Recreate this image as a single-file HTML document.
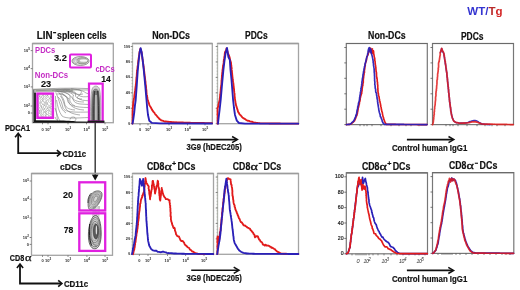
<!DOCTYPE html><html><head><meta charset="utf-8"><style>html,body{margin:0;padding:0;background:#fff;width:520px;height:290px;overflow:hidden}svg{display:block;font-family:"Liberation Sans",sans-serif;will-change:transform}</style></head><body>
<svg width="520" height="290" viewBox="0 0 520 290">
<rect width="520" height="290" fill="#fff"/>
<text x="467.3" y="15.3" font-size="11.5" font-weight="bold" textLength="35.2" lengthAdjust="spacingAndGlyphs"><tspan fill="#3434d0">WT/</tspan><tspan fill="#b82a2a">T</tspan><tspan fill="#d42626">g</tspan></text>
<text x="36.7" y="39.1" font-size="10" font-weight="bold" fill="#111" text-anchor="start" textLength="15.8" lengthAdjust="spacingAndGlyphs" stroke="#111" stroke-width="0.2" >LIN</text>
<rect x="53.1" y="32" width="3" height="1.3" fill="#111"/>
<text x="57.1" y="39.2" font-size="10.3" font-weight="bold" fill="#111" text-anchor="start" textLength="49.6" lengthAdjust="spacingAndGlyphs" stroke="#111" stroke-width="0.2" >spleen cells</text>
<rect x="32.5" y="43.5" width="80.8" height="79.2" fill="none" stroke="#a4a4a4" stroke-width="1.3"/>
<line x1="32.5" y1="43.5" x2="113.3" y2="43.5" stroke="#9c9c9c" stroke-width="1.3"/>
<line x1="30.7" y1="50.6" x2="32.5" y2="50.6" stroke="#666" stroke-width="0.8"/>
<text x="29.9" y="52.04" font-size="4.0" font-weight="bold" fill="#2a2a2a" text-anchor="end">10<tspan font-size="3.00" dy="-1.80">5</tspan></text>
<line x1="30.7" y1="68.6" x2="32.5" y2="68.6" stroke="#666" stroke-width="0.8"/>
<text x="29.9" y="70.03999999999999" font-size="4.0" font-weight="bold" fill="#2a2a2a" text-anchor="end">10<tspan font-size="3.00" dy="-1.80">4</tspan></text>
<line x1="30.7" y1="86.9" x2="32.5" y2="86.9" stroke="#666" stroke-width="0.8"/>
<text x="29.9" y="88.34" font-size="4.0" font-weight="bold" fill="#2a2a2a" text-anchor="end">10<tspan font-size="3.00" dy="-1.80">3</tspan></text>
<line x1="30.7" y1="106" x2="32.5" y2="106" stroke="#666" stroke-width="0.8"/>
<text x="29.9" y="107.44" font-size="4.0" font-weight="bold" fill="#2a2a2a" text-anchor="end">10<tspan font-size="3.00" dy="-1.80">2</tspan></text>
<line x1="30.7" y1="113" x2="32.5" y2="113" stroke="#666" stroke-width="0.8"/>
<text x="29.9" y="114.44" font-size="4.0" font-weight="bold" fill="#2a2a2a" text-anchor="end" textLength="2.22" lengthAdjust="spacingAndGlyphs">0</text>
<line x1="42.5" y1="122.7" x2="42.5" y2="124.3" stroke="#666" stroke-width="0.8"/>
<text x="42.5" y="130.6" font-size="4.0" font-weight="bold" fill="#2a2a2a" text-anchor="middle" textLength="2.22" lengthAdjust="spacingAndGlyphs">0</text>
<line x1="48" y1="122.7" x2="48" y2="124.3" stroke="#666" stroke-width="0.8"/>
<text x="48" y="130.6" font-size="4.0" font-weight="bold" fill="#2a2a2a" text-anchor="middle">10<tspan font-size="3.00" dy="-1.80">2</tspan></text>
<line x1="68" y1="122.7" x2="68" y2="124.3" stroke="#666" stroke-width="0.8"/>
<text x="68" y="130.6" font-size="4.0" font-weight="bold" fill="#2a2a2a" text-anchor="middle">10<tspan font-size="3.00" dy="-1.80">3</tspan></text>
<line x1="86.5" y1="122.7" x2="86.5" y2="124.3" stroke="#666" stroke-width="0.8"/>
<text x="86.5" y="130.6" font-size="4.0" font-weight="bold" fill="#2a2a2a" text-anchor="middle">10<tspan font-size="3.00" dy="-1.80">4</tspan></text>
<line x1="105" y1="122.7" x2="105" y2="124.3" stroke="#666" stroke-width="0.8"/>
<text x="105" y="130.6" font-size="4.0" font-weight="bold" fill="#2a2a2a" text-anchor="middle">10<tspan font-size="3.00" dy="-1.80">5</tspan></text>
<rect x="33" y="88.8" width="40" height="3.2" fill="#a9ada5" opacity="0.85"/>
<rect x="73" y="88.8" width="15" height="2" fill="#b8bcb4" opacity="0.7"/>
<path d="M33,89.5 C50,88.4 70,87.6 89,88.6" fill="none" stroke="#7a7a7a" stroke-width="0.6"/>
<path d="M36,90.8 C50,90 62,89.2 70,89.6" fill="none" stroke="#7a7a7a" stroke-width="0.6"/>
<path d="M52,90.5 C60,88.5 70,88.5 79,89.8 C84,91 80,95 77,97.5 C80,100.5 85,100.5 89,100.8" fill="none" stroke="#7a7a7a" stroke-width="0.6"/>
<path d="M55,92 C63,90.5 70,91.5 73.5,95 C72,99 73,103 80,104 L89,104.5" fill="none" stroke="#7a7a7a" stroke-width="0.6"/>
<path d="M57,94 C62,93.5 67,96 67.5,100 C68,105 74,107.5 89,107.5" fill="none" stroke="#7a7a7a" stroke-width="0.6"/>
<path d="M58,97 C61,99 62,104 63,108 C65,112 72,112.5 89,112" fill="none" stroke="#7a7a7a" stroke-width="0.6"/>
<path d="M56.5,100 C57.5,106 59,112 62,116 C66,119 76,118 89,117.5" fill="none" stroke="#7a7a7a" stroke-width="0.6"/>
<path d="M55.5,96 C55.5,104 56,112 57.5,120" fill="none" stroke="#7a7a7a" stroke-width="0.6"/>
<path d="M60,91.5 C66,92 71,94 70,98 C69,101 71,104 75,106" fill="none" stroke="#7a7a7a" stroke-width="0.6"/>
<path d="M63,90 C70,89.5 76,91 75.5,94 C75,97 77,99 82,99" fill="none" stroke="#7a7a7a" stroke-width="0.6"/>
<path d="M55,108 C57,114 58,118 60,121" fill="none" stroke="#7a7a7a" stroke-width="0.6"/>
<path d="M70,119.5 C70,117 73,116.5 75,117.5 C76.5,118.5 76,120.5 74.5,121" fill="none" stroke="#7a7a7a" stroke-width="0.6"/>
<path d="M56,93 C58,97 59,101 60,104 C61,108 63,111 66,113" fill="none" stroke="#7a7a7a" stroke-width="0.6"/>
<path d="M58.5,92.5 C62,96 64,99 64.5,103 C65,107 68,109.5 75,110" fill="none" stroke="#7a7a7a" stroke-width="0.6"/>
<path d="M61.5,93 C65,95.5 67.5,97 69,99" fill="none" stroke="#7a7a7a" stroke-width="0.6"/>
<path d="M66,90.5 C72,91.5 77,93.5 79,95.5 C81,97 85,97 89,96.5" fill="none" stroke="#7a7a7a" stroke-width="0.6"/>
<path d="M71,88.8 C77,89 83,90.5 86,93 L89,94" fill="none" stroke="#7a7a7a" stroke-width="0.6"/>
<path d="M55,117 C56,119.5 57,120.5 58,121" fill="none" stroke="#7a7a7a" stroke-width="0.6"/>
<path d="M55.5,90.5 C62,90 68,90.5 72,92.5 C76,94.5 79,95 83,94" fill="none" stroke="#7a7a7a" stroke-width="0.6"/>
<path d="M57,91.5 C63,91.5 69,93.5 71.5,97 C73,100 77,102 84,102" fill="none" stroke="#7a7a7a" stroke-width="0.6"/>
<path d="M59,93 C64,94 68,97.5 69,102 C70,106 75,109.5 84,110" fill="none" stroke="#7a7a7a" stroke-width="0.6"/>
<path d="M60.5,96 C63,99 64,104 65.5,108 C67,111 71,114 80,115" fill="none" stroke="#7a7a7a" stroke-width="0.6"/>
<polyline points="38.70,94.50 38.92,95.50 39.65,96.50 38.73,97.50 38.82,98.50 38.97,99.50 38.17,100.50 38.82,101.50 39.06,102.50 39.39,103.50 37.99,104.50 38.41,105.50 37.98,106.50 39.42,107.50 39.19,108.50 37.88,109.50 39.76,110.50 39.73,111.50 39.11,112.50 39.03,113.50 38.11,114.50 37.83,115.50 38.86,116.50 37.92,117.50" fill="none" stroke="#858585" stroke-width="0.5"/>
<polyline points="39.78,94.50 39.88,95.50 39.46,96.50 40.33,97.50 40.28,98.50 41.08,99.50 40.44,100.50 40.68,101.50 40.40,102.50 40.72,103.50 40.31,104.50 39.96,105.50 41.40,106.50 41.39,107.50 41.08,108.50 40.82,109.50 40.03,110.50 39.86,111.50 39.98,112.50 39.54,113.50 40.93,114.50 40.20,115.50 41.09,116.50 40.17,117.50" fill="none" stroke="#858585" stroke-width="0.5"/>
<polyline points="42.92,94.50 42.69,95.50 41.00,96.50 41.42,97.50 42.82,98.50 41.94,99.50 42.96,100.50 41.79,101.50 41.15,102.50 42.26,103.50 42.56,104.50 41.54,105.50 41.17,106.50 41.67,107.50 42.93,108.50 42.52,109.50 41.24,110.50 41.49,111.50 41.20,112.50 41.12,113.50 42.59,114.50 41.36,115.50 42.12,116.50 41.89,117.50" fill="none" stroke="#858585" stroke-width="0.5"/>
<polyline points="42.98,94.50 44.06,95.50 42.86,96.50 43.89,97.50 42.83,98.50 43.44,99.50 43.03,100.50 43.14,101.50 44.54,102.50 44.21,103.50 43.21,104.50 44.37,105.50 43.02,106.50 43.39,107.50 44.31,108.50 43.88,109.50 42.80,110.50 44.58,111.50 43.03,112.50 43.12,113.50 44.15,114.50 43.26,115.50 43.19,116.50 42.75,117.50" fill="none" stroke="#858585" stroke-width="0.5"/>
<polyline points="44.38,94.50 45.37,95.50 44.69,96.50 45.40,97.50 44.94,98.50 45.11,99.50 46.12,100.50 45.17,101.50 45.35,102.50 45.93,103.50 44.57,104.50 44.51,105.50 46.02,106.50 45.84,107.50 44.70,108.50 44.58,109.50 45.68,110.50 46.08,111.50 44.59,112.50 46.10,113.50 45.96,114.50 45.41,115.50 45.04,116.50 44.41,117.50" fill="none" stroke="#858585" stroke-width="0.5"/>
<polyline points="45.88,94.50 47.73,95.50 46.28,96.50 47.21,97.50 46.31,98.50 47.45,99.50 46.99,100.50 46.39,101.50 46.15,102.50 47.24,103.50 45.94,104.50 46.26,105.50 46.92,106.50 47.50,107.50 47.03,108.50 46.36,109.50 47.63,110.50 46.21,111.50 45.83,112.50 46.34,113.50 46.69,114.50 45.92,115.50 46.15,116.50 46.54,117.50" fill="none" stroke="#858585" stroke-width="0.5"/>
<polyline points="48.54,94.50 47.66,95.50 48.12,96.50 49.18,97.50 49.36,98.50 48.71,99.50 48.78,100.50 48.57,101.50 47.68,102.50 47.47,103.50 47.44,104.50 49.22,105.50 48.80,106.50 49.33,107.50 47.44,108.50 48.67,109.50 48.36,110.50 48.86,111.50 48.04,112.50 49.40,113.50 47.55,114.50 48.49,115.50 48.87,116.50 49.20,117.50" fill="none" stroke="#858585" stroke-width="0.5"/>
<polyline points="50.47,94.50 50.41,95.50 50.59,96.50 50.83,97.50 49.70,98.50 50.37,99.50 50.80,100.50 50.74,101.50 49.83,102.50 50.58,103.50 50.73,104.50 50.15,105.50 50.25,106.50 49.76,107.50 50.17,108.50 50.22,109.50 49.16,110.50 50.28,111.50 50.99,112.50 50.76,113.50 50.46,114.50 49.78,115.50 50.47,116.50 50.16,117.50" fill="none" stroke="#858585" stroke-width="0.5"/>
<polyline points="51.48,94.50 52.28,95.50 50.77,96.50 52.10,97.50 50.66,98.50 51.80,99.50 51.56,100.50 51.06,101.50 52.00,102.50 51.59,103.50 51.83,104.50 52.44,105.50 51.11,106.50 50.62,107.50 51.20,108.50 51.96,109.50 51.01,110.50 50.94,111.50 52.41,112.50 51.92,113.50 51.48,114.50 52.38,115.50 51.25,116.50 51.93,117.50" fill="none" stroke="#858585" stroke-width="0.5"/>
<path d="M33,120.3 L60,120.4 C70,120.6 74,121 78,121.5 L104,121.8 L104,122.8 L33,122.8Z" fill="#111"/>
<rect x="33" y="90" width="1.2" height="32" fill="#777"/>
<rect x="34.1" y="92.5" width="1.8" height="29.5" fill="#151515"/>
<path transform="translate(-0.5,0)" d="M91.2,121.5 C90.8,108 91.2,94 92.6,89 C94,85 98.6,85 100,89 C101.3,94 101.6,108 101.3,121.5Z" fill="#d2d2d2" stroke="#8a8a8a" stroke-width="0.6"/>
<path transform="translate(-0.5,0)" d="M92.2,121.5 C92,108 92.4,97 93.4,91.5 C94.5,88.3 97.9,88.3 99,91.5 C100,97 100.4,108 100.2,121.5Z" fill="#8e8e8e" stroke="#666" stroke-width="0.6"/>
<path d="M92.6,121.5 C92.39999999999999,110 92.6,100 94.0,91" fill="none" stroke="#444" stroke-width="0.6"/>
<path d="M93.8,121.5 C93.6,110 93.8,100 94.72,91" fill="none" stroke="#222" stroke-width="0.9"/>
<path d="M94.6,121.5 C94.39999999999999,110 94.6,100 95.19999999999999,91" fill="none" stroke="#555" stroke-width="0.6"/>
<path d="M97.0,121.5 C96.8,110 97.0,100 96.64,91" fill="none" stroke="#555" stroke-width="0.6"/>
<path d="M98.6,121.5 C98.39999999999999,110 98.6,100 97.6,91" fill="none" stroke="#222" stroke-width="0.9"/>
<path d="M99.4,121.5 C99.2,110 99.4,100 98.08,91" fill="none" stroke="#444" stroke-width="0.6"/>
<line x1="96.0" y1="95" x2="96.0" y2="120" stroke="#e6e6e6" stroke-width="1"/>
<ellipse cx="80.5" cy="61" rx="8.6" ry="4.5" transform="rotate(0 80.5 61)" fill="#dcdedb" stroke="#777" stroke-width="0.7" opacity="1"/>
<ellipse cx="82.2" cy="60.8" rx="5.6" ry="3.1" transform="rotate(0 82.2 60.8)" fill="#b4b8b0" stroke="#8a8f86" stroke-width="0.9" opacity="1"/>
<ellipse cx="83.6" cy="60.6" rx="3.8" ry="1.2" transform="rotate(0 83.6 60.6)" fill="#f8f8f8" stroke="#fff" stroke-width="0.2" opacity="1"/>
<ellipse cx="75.4" cy="61.2" rx="2.6" ry="2.4" transform="rotate(0 75.4 61.2)" fill="#e4e4e4" stroke="#8a8a8a" stroke-width="0.6" opacity="1"/>
<ellipse cx="75.6" cy="61.2" rx="1.2" ry="1.1" transform="rotate(0 75.6 61.2)" fill="#eee" stroke="#999" stroke-width="0.4" opacity="1"/>
<rect x="70" y="54.5" width="21" height="13" rx="1" fill="none" stroke="#e020e0" stroke-width="2"/>
<rect x="37.4" y="93.6" width="15.5" height="24.2" fill="none" stroke="#e020e0" stroke-width="2.4"/>
<rect x="89" y="83.6" width="13.7" height="38" fill="none" stroke="#e020e0" stroke-width="2.2"/>
<rect x="87.5" y="120.6" width="17" height="2.1" fill="#1a1a1a"/>
<text x="35.1" y="52.5" font-size="9.3" font-weight="bold" fill="#c42cc4" text-anchor="start" textLength="20.2" lengthAdjust="spacingAndGlyphs" >PDCs</text>
<text x="53.9" y="61.2" font-size="9.6" font-weight="bold" fill="#111" text-anchor="start" textLength="12.9" lengthAdjust="spacingAndGlyphs" stroke="#111" stroke-width="0.15" >3.2</text>
<text x="34.8" y="77.5" font-size="9.3" font-weight="bold" fill="#c42cc4" text-anchor="start" textLength="33.4" lengthAdjust="spacingAndGlyphs" >Non-DCs</text>
<text x="41" y="86.6" font-size="9.6" font-weight="bold" fill="#111" text-anchor="start" textLength="10.2" lengthAdjust="spacingAndGlyphs" stroke="#111" stroke-width="0.15" >23</text>
<text x="95.4" y="71.6" font-size="9.3" font-weight="bold" fill="#c42cc4" text-anchor="start" textLength="19.4" lengthAdjust="spacingAndGlyphs" >cDCs</text>
<text x="101.2" y="81.8" font-size="9.6" font-weight="bold" fill="#111" text-anchor="start" textLength="9.6" lengthAdjust="spacingAndGlyphs" stroke="#111" stroke-width="0.15" >14</text>
<text x="4.9" y="130.5" font-size="9.3" font-weight="bold" fill="#111" text-anchor="start" textLength="25.2" lengthAdjust="spacingAndGlyphs" stroke="#111" stroke-width="0.2" >PDCA1</text>
<polyline points="18.2,134 18.2,153.2 59.5,153.2" fill="none" stroke="#111" stroke-width="1.8"/>
<polyline points="15.1,137.2 18.2,133.2 21.3,137.2" fill="none" stroke="#111" stroke-width="1.6"/>
<polyline points="56.9,150.1 60.6,153.2 56.9,156.3" fill="none" stroke="#111" stroke-width="1.6"/>
<text x="62.4" y="156.8" font-size="9.6" font-weight="bold" fill="#111" text-anchor="start" textLength="23.8" lengthAdjust="spacingAndGlyphs" stroke="#111" stroke-width="0.2" >CD11c</text>
<line x1="95.2" y1="122" x2="95.2" y2="176" stroke="#333" stroke-width="1.4"/>
<polygon points="91.8,174.6 98.6,174.6 95.2,180.5" fill="#111"/>
<text x="60" y="169.8" font-size="8.6" font-weight="bold" fill="#111" text-anchor="start" textLength="22" lengthAdjust="spacingAndGlyphs" stroke="#111" stroke-width="0.2" >cDCs</text>
<rect x="31.5" y="173.5" width="81.0" height="81.80000000000001" fill="none" stroke="#a4a4a4" stroke-width="1.3"/>
<line x1="31.5" y1="173.5" x2="112.5" y2="173.5" stroke="#9c9c9c" stroke-width="1.3"/>
<line x1="29.7" y1="181" x2="31.5" y2="181" stroke="#666" stroke-width="0.8"/>
<text x="28.9" y="182.44" font-size="4.0" font-weight="bold" fill="#2a2a2a" text-anchor="end">10<tspan font-size="3.00" dy="-1.80">5</tspan></text>
<line x1="29.7" y1="199.2" x2="31.5" y2="199.2" stroke="#666" stroke-width="0.8"/>
<text x="28.9" y="200.64" font-size="4.0" font-weight="bold" fill="#2a2a2a" text-anchor="end">10<tspan font-size="3.00" dy="-1.80">4</tspan></text>
<line x1="29.7" y1="218" x2="31.5" y2="218" stroke="#666" stroke-width="0.8"/>
<text x="28.9" y="219.44" font-size="4.0" font-weight="bold" fill="#2a2a2a" text-anchor="end">10<tspan font-size="3.00" dy="-1.80">3</tspan></text>
<line x1="29.7" y1="237.5" x2="31.5" y2="237.5" stroke="#666" stroke-width="0.8"/>
<text x="28.9" y="238.94" font-size="4.0" font-weight="bold" fill="#2a2a2a" text-anchor="end">10<tspan font-size="3.00" dy="-1.80">2</tspan></text>
<line x1="29.7" y1="244.4" x2="31.5" y2="244.4" stroke="#666" stroke-width="0.8"/>
<text x="28.9" y="245.84" font-size="4.0" font-weight="bold" fill="#2a2a2a" text-anchor="end" textLength="2.22" lengthAdjust="spacingAndGlyphs">0</text>
<line x1="42.5" y1="255.3" x2="42.5" y2="256.90000000000003" stroke="#666" stroke-width="0.8"/>
<text x="42.5" y="261.6" font-size="4.0" font-weight="bold" fill="#2a2a2a" text-anchor="middle" textLength="2.22" lengthAdjust="spacingAndGlyphs">0</text>
<line x1="48" y1="255.3" x2="48" y2="256.90000000000003" stroke="#666" stroke-width="0.8"/>
<text x="48" y="261.6" font-size="4.0" font-weight="bold" fill="#2a2a2a" text-anchor="middle">10<tspan font-size="3.00" dy="-1.80">2</tspan></text>
<line x1="68" y1="255.3" x2="68" y2="256.90000000000003" stroke="#666" stroke-width="0.8"/>
<text x="68" y="261.6" font-size="4.0" font-weight="bold" fill="#2a2a2a" text-anchor="middle">10<tspan font-size="3.00" dy="-1.80">3</tspan></text>
<line x1="86.9" y1="255.3" x2="86.9" y2="256.90000000000003" stroke="#666" stroke-width="0.8"/>
<text x="86.9" y="261.6" font-size="4.0" font-weight="bold" fill="#2a2a2a" text-anchor="middle">10<tspan font-size="3.00" dy="-1.80">4</tspan></text>
<line x1="105" y1="255.3" x2="105" y2="256.90000000000003" stroke="#666" stroke-width="0.8"/>
<text x="105" y="261.6" font-size="4.0" font-weight="bold" fill="#2a2a2a" text-anchor="middle">10<tspan font-size="3.00" dy="-1.80">5</tspan></text>
<path d="M 89,209 C 87.2,205.5 88.2,198.5 91.3,194.2 C 93.8,190.8 99,189.8 101.3,192.2 C 103.2,194.5 101.2,200 98.6,203.8 C 96,207.5 91.3,211.2 89,209 Z" fill="#d6d6d6" stroke="#4a4a4a" stroke-width="0.75"/>
<path d="M 89.98,207.53 C 88.43,204.52 89.29,198.50 91.96,194.80 C 94.11,191.88 98.58,191.02 100.56,193.08 C 102.19,195.06 100.47,199.79 98.24,203.06 C 96.00,206.24 91.96,209.42 89.98,207.53 Z" fill="none" stroke="#555" stroke-width="0.5"/>
<path d="M 90.96,206.06 C 89.66,203.54 90.38,198.50 92.62,195.40 C 94.42,192.96 98.16,192.24 99.82,193.96 C 101.18,195.62 99.74,199.58 97.87,202.32 C 96.00,204.98 92.62,207.64 90.96,206.06 Z" fill="none" stroke="#888" stroke-width="0.5"/>
<path d="M 91.94,204.59 C 90.90,202.56 91.48,198.50 93.27,196.01 C 94.72,194.03 97.74,193.45 99.07,194.85 C 100.18,196.18 99.02,199.37 97.51,201.57 C 96.00,203.72 93.27,205.87 91.94,204.59 Z" fill="none" stroke="#555" stroke-width="0.5"/>
<path d="M 92.92,203.12 C 92.13,201.58 92.57,198.50 93.93,196.61 C 95.03,195.11 97.32,194.67 98.33,195.73 C 99.17,196.74 98.29,199.16 97.14,200.83 C 96.00,202.46 93.93,204.09 92.92,203.12 Z" fill="none" stroke="#888" stroke-width="0.5"/>
<path d="M 93.90,201.65 C 93.36,200.60 93.66,198.50 94.59,197.21 C 95.34,196.19 96.90,195.89 97.59,196.61 C 98.16,197.30 97.56,198.95 96.78,200.09 C 96.00,201.20 94.59,202.31 93.90,201.65 Z" fill="none" stroke="#555" stroke-width="0.5"/>
<path d="M 88,203 C 87.5,199 89,195 91.5,193" fill="none" stroke="#333" stroke-width="0.9"/>
<line x1="93.5" y1="206" x2="92.5" y2="219" stroke="#8a8a8a" stroke-width="0.5"/>
<line x1="94.6" y1="206" x2="93.6" y2="219" stroke="#8a8a8a" stroke-width="0.5"/>
<line x1="95.8" y1="206" x2="94.8" y2="219" stroke="#8a8a8a" stroke-width="0.5"/>
<line x1="97.2" y1="206" x2="96.2" y2="219" stroke="#8a8a8a" stroke-width="0.5"/>
<line x1="98.5" y1="206" x2="97.5" y2="219" stroke="#8a8a8a" stroke-width="0.5"/>
<line x1="99.6" y1="206" x2="98.6" y2="219" stroke="#8a8a8a" stroke-width="0.5"/>
<path d="M 95.5,215.5 C 99.5,216 101,224 101.2,233 C 101.3,242 99,248.8 94.8,248.8 C 90.5,248.8 88.4,243 88.4,235 C 88.4,226 91.5,215.5 95.5,215.5 Z" fill="#cfcfcf" stroke="#444" stroke-width="0.8"/>
<path d="M 95.44,217.48 C 98.96,217.92 100.28,224.96 100.46,232.88 C 100.54,240.80 98.52,246.78 94.82,246.78 C 91.04,246.78 89.19,241.68 89.19,234.64 C 89.19,226.72 91.92,217.48 95.44,217.48 Z" fill="none" stroke="#3a3a3a" stroke-width="0.55"/>
<path d="M 95.38,219.46 C 98.42,219.84 99.56,225.92 99.71,232.76 C 99.79,239.60 98.04,244.77 94.85,244.77 C 91.58,244.77 89.98,240.36 89.98,234.28 C 89.98,227.44 92.34,219.46 95.38,219.46 Z" fill="none" stroke="#777" stroke-width="0.55"/>
<path d="M 95.32,221.44 C 97.88,221.76 98.84,226.88 98.97,232.64 C 99.03,238.40 97.56,242.75 94.87,242.75 C 92.12,242.75 90.78,239.04 90.78,233.92 C 90.78,228.16 92.76,221.44 95.32,221.44 Z" fill="none" stroke="#3a3a3a" stroke-width="0.55"/>
<path d="M 95.26,223.42 C 97.34,223.68 98.12,227.84 98.22,232.52 C 98.28,237.20 97.08,240.74 94.90,240.74 C 92.66,240.74 91.57,237.72 91.57,233.56 C 91.57,228.88 93.18,223.42 95.26,223.42 Z" fill="none" stroke="#777" stroke-width="0.55"/>
<ellipse cx="95.8" cy="231.5" rx="2.6" ry="7.5" fill="#5a5a5a" stroke="#222" stroke-width="0.5"/>
<ellipse cx="96.4" cy="230" rx="0.7" ry="4.5" fill="#e0e0e0"/>
<path d="M 89.6,224 C 89,231 89.4,240 91.5,245.5" fill="none" stroke="#222" stroke-width="1"/>
<path d="M 92,240 C 93,244 95,246.5 97,246" fill="none" stroke="#555" stroke-width="0.6"/>
<rect x="79.3" y="182.3" width="25.9" height="28.2" fill="none" stroke="#e020e0" stroke-width="2.3"/>
<rect x="79.3" y="213.3" width="25.9" height="37.6" fill="none" stroke="#e020e0" stroke-width="2.3"/>
<text x="63.1" y="198.3" font-size="9.6" font-weight="bold" fill="#111" text-anchor="start" textLength="10" lengthAdjust="spacingAndGlyphs" stroke="#111" stroke-width="0.15" >20</text>
<text x="63.7" y="233.1" font-size="9.6" font-weight="bold" fill="#111" text-anchor="start" textLength="9.6" lengthAdjust="spacingAndGlyphs" stroke="#111" stroke-width="0.15" >78</text>
<text x="9.8" y="261.3" font-size="9.2" font-weight="bold" fill="#111" text-anchor="start" textLength="14.4" lengthAdjust="spacingAndGlyphs" stroke="#111" stroke-width="0.2" >CD8</text>
<text x="25" y="261.3" font-size="9.6" font-family="Liberation Serif" fill="#111" stroke="#111" stroke-width="0.25" textLength="6.5" lengthAdjust="spacingAndGlyphs">α</text>
<polyline points="20,264.5 20,283.5 61,283.5" fill="none" stroke="#111" stroke-width="1.8"/>
<polyline points="16.9,268 20,264 23.1,268" fill="none" stroke="#111" stroke-width="1.6"/>
<polyline points="58.2,280.4 61.9,283.5 58.2,286.6" fill="none" stroke="#111" stroke-width="1.6"/>
<text x="63.9" y="286.9" font-size="9.6" font-weight="bold" fill="#111" text-anchor="start" textLength="24.2" lengthAdjust="spacingAndGlyphs" stroke="#111" stroke-width="0.2" >CD11c</text>
<text x="152.2" y="38.7" font-size="10.2" font-weight="bold" fill="#111" text-anchor="start" textLength="37.8" lengthAdjust="spacingAndGlyphs" stroke="#111" stroke-width="0.2" >Non-DCs</text>
<text x="245.1" y="38.8" font-size="10.2" font-weight="bold" fill="#111" text-anchor="start" textLength="22.6" lengthAdjust="spacingAndGlyphs" stroke="#111" stroke-width="0.2" >PDCs</text>
<rect x="132.5" y="43.5" width="79.80000000000001" height="80.2" fill="none" stroke="#a4a4a4" stroke-width="1.3"/>
<line x1="132.5" y1="43.5" x2="212.3" y2="43.5" stroke="#9c9c9c" stroke-width="1.3"/>
<line x1="132.5" y1="44.2" x2="132.5" y2="123.7" stroke="#fff" stroke-width="1.4"/>
<line x1="132.5" y1="44.2" x2="132.5" y2="123.7" stroke="#b4b8b0" stroke-width="1"/>
<line x1="130.7" y1="46.5" x2="132.5" y2="46.5" stroke="#666" stroke-width="0.8"/>
<text x="130.2" y="47.58" font-size="3.0" font-weight="bold" fill="#2a2a2a" text-anchor="end" textLength="6.51" lengthAdjust="spacingAndGlyphs">100</text>
<line x1="130.7" y1="61.94" x2="132.5" y2="61.94" stroke="#666" stroke-width="0.8"/>
<text x="130.2" y="63.019999999999996" font-size="3.0" font-weight="bold" fill="#2a2a2a" text-anchor="end" textLength="4.34" lengthAdjust="spacingAndGlyphs">80</text>
<line x1="130.7" y1="77.38" x2="132.5" y2="77.38" stroke="#666" stroke-width="0.8"/>
<text x="130.2" y="78.46" font-size="3.0" font-weight="bold" fill="#2a2a2a" text-anchor="end" textLength="4.34" lengthAdjust="spacingAndGlyphs">60</text>
<line x1="130.7" y1="92.82000000000001" x2="132.5" y2="92.82000000000001" stroke="#666" stroke-width="0.8"/>
<text x="130.2" y="93.9" font-size="3.0" font-weight="bold" fill="#2a2a2a" text-anchor="end" textLength="4.34" lengthAdjust="spacingAndGlyphs">40</text>
<line x1="130.7" y1="108.26" x2="132.5" y2="108.26" stroke="#666" stroke-width="0.8"/>
<text x="130.2" y="109.34" font-size="3.0" font-weight="bold" fill="#2a2a2a" text-anchor="end" textLength="4.34" lengthAdjust="spacingAndGlyphs">20</text>
<line x1="130.7" y1="123.7" x2="132.5" y2="123.7" stroke="#666" stroke-width="0.8"/>
<text x="130.2" y="124.78" font-size="3.0" font-weight="bold" fill="#2a2a2a" text-anchor="end" textLength="2.17" lengthAdjust="spacingAndGlyphs">0</text>
<line x1="131.6" y1="46.5" x2="132.5" y2="46.5" stroke="#888" stroke-width="0.5"/>
<line x1="131.6" y1="49.6" x2="132.5" y2="49.6" stroke="#888" stroke-width="0.5"/>
<line x1="131.6" y1="52.7" x2="132.5" y2="52.7" stroke="#888" stroke-width="0.5"/>
<line x1="131.6" y1="55.8" x2="132.5" y2="55.8" stroke="#888" stroke-width="0.5"/>
<line x1="131.6" y1="58.9" x2="132.5" y2="58.9" stroke="#888" stroke-width="0.5"/>
<line x1="131.6" y1="61.9" x2="132.5" y2="61.9" stroke="#888" stroke-width="0.5"/>
<line x1="131.6" y1="65.0" x2="132.5" y2="65.0" stroke="#888" stroke-width="0.5"/>
<line x1="131.6" y1="68.1" x2="132.5" y2="68.1" stroke="#888" stroke-width="0.5"/>
<line x1="131.6" y1="71.2" x2="132.5" y2="71.2" stroke="#888" stroke-width="0.5"/>
<line x1="131.6" y1="74.3" x2="132.5" y2="74.3" stroke="#888" stroke-width="0.5"/>
<line x1="131.6" y1="77.4" x2="132.5" y2="77.4" stroke="#888" stroke-width="0.5"/>
<line x1="131.6" y1="80.5" x2="132.5" y2="80.5" stroke="#888" stroke-width="0.5"/>
<line x1="131.6" y1="83.6" x2="132.5" y2="83.6" stroke="#888" stroke-width="0.5"/>
<line x1="131.6" y1="86.6" x2="132.5" y2="86.6" stroke="#888" stroke-width="0.5"/>
<line x1="131.6" y1="89.7" x2="132.5" y2="89.7" stroke="#888" stroke-width="0.5"/>
<line x1="131.6" y1="92.8" x2="132.5" y2="92.8" stroke="#888" stroke-width="0.5"/>
<line x1="131.6" y1="95.9" x2="132.5" y2="95.9" stroke="#888" stroke-width="0.5"/>
<line x1="131.6" y1="99.0" x2="132.5" y2="99.0" stroke="#888" stroke-width="0.5"/>
<line x1="131.6" y1="102.1" x2="132.5" y2="102.1" stroke="#888" stroke-width="0.5"/>
<line x1="131.6" y1="105.2" x2="132.5" y2="105.2" stroke="#888" stroke-width="0.5"/>
<line x1="131.6" y1="108.3" x2="132.5" y2="108.3" stroke="#888" stroke-width="0.5"/>
<line x1="131.6" y1="111.3" x2="132.5" y2="111.3" stroke="#888" stroke-width="0.5"/>
<line x1="131.6" y1="114.4" x2="132.5" y2="114.4" stroke="#888" stroke-width="0.5"/>
<line x1="131.6" y1="117.5" x2="132.5" y2="117.5" stroke="#888" stroke-width="0.5"/>
<line x1="131.6" y1="120.6" x2="132.5" y2="120.6" stroke="#888" stroke-width="0.5"/>
<line x1="140" y1="123.7" x2="140" y2="125.3" stroke="#666" stroke-width="0.8"/>
<text x="140" y="130.6" font-size="4.0" font-weight="bold" fill="#2a2a2a" text-anchor="middle" textLength="2.22" lengthAdjust="spacingAndGlyphs">0</text>
<line x1="148" y1="123.7" x2="148" y2="125.3" stroke="#666" stroke-width="0.8"/>
<text x="148" y="130.6" font-size="4.0" font-weight="bold" fill="#2a2a2a" text-anchor="middle">10<tspan font-size="3.00" dy="-1.80">2</tspan></text>
<line x1="169" y1="123.7" x2="169" y2="125.3" stroke="#666" stroke-width="0.8"/>
<text x="169" y="130.6" font-size="4.0" font-weight="bold" fill="#2a2a2a" text-anchor="middle">10<tspan font-size="3.00" dy="-1.80">3</tspan></text>
<line x1="187.5" y1="123.7" x2="187.5" y2="125.3" stroke="#666" stroke-width="0.8"/>
<text x="187.5" y="130.6" font-size="4.0" font-weight="bold" fill="#2a2a2a" text-anchor="middle">10<tspan font-size="3.00" dy="-1.80">4</tspan></text>
<line x1="205" y1="123.7" x2="205" y2="125.3" stroke="#666" stroke-width="0.8"/>
<text x="205" y="130.6" font-size="4.0" font-weight="bold" fill="#2a2a2a" text-anchor="middle">10<tspan font-size="3.00" dy="-1.80">5</tspan></text>
<rect x="217.5" y="43.5" width="81.0" height="80.2" fill="none" stroke="#a4a4a4" stroke-width="1.3"/>
<line x1="217.5" y1="43.5" x2="298.5" y2="43.5" stroke="#9c9c9c" stroke-width="1.3"/>
<line x1="217.5" y1="44.2" x2="217.5" y2="123.7" stroke="#fff" stroke-width="1.4"/>
<line x1="217.5" y1="44.2" x2="217.5" y2="123.7" stroke="#b4b8b0" stroke-width="1"/>
<line x1="215.7" y1="46.5" x2="217.5" y2="46.5" stroke="#666" stroke-width="0.8"/>
<line x1="215.7" y1="61.94" x2="217.5" y2="61.94" stroke="#666" stroke-width="0.8"/>
<line x1="215.7" y1="77.38" x2="217.5" y2="77.38" stroke="#666" stroke-width="0.8"/>
<line x1="215.7" y1="92.82000000000001" x2="217.5" y2="92.82000000000001" stroke="#666" stroke-width="0.8"/>
<line x1="215.7" y1="108.26" x2="217.5" y2="108.26" stroke="#666" stroke-width="0.8"/>
<line x1="215.7" y1="123.7" x2="217.5" y2="123.7" stroke="#666" stroke-width="0.8"/>
<line x1="216.6" y1="46.5" x2="217.5" y2="46.5" stroke="#888" stroke-width="0.5"/>
<line x1="216.6" y1="49.6" x2="217.5" y2="49.6" stroke="#888" stroke-width="0.5"/>
<line x1="216.6" y1="52.7" x2="217.5" y2="52.7" stroke="#888" stroke-width="0.5"/>
<line x1="216.6" y1="55.8" x2="217.5" y2="55.8" stroke="#888" stroke-width="0.5"/>
<line x1="216.6" y1="58.9" x2="217.5" y2="58.9" stroke="#888" stroke-width="0.5"/>
<line x1="216.6" y1="61.9" x2="217.5" y2="61.9" stroke="#888" stroke-width="0.5"/>
<line x1="216.6" y1="65.0" x2="217.5" y2="65.0" stroke="#888" stroke-width="0.5"/>
<line x1="216.6" y1="68.1" x2="217.5" y2="68.1" stroke="#888" stroke-width="0.5"/>
<line x1="216.6" y1="71.2" x2="217.5" y2="71.2" stroke="#888" stroke-width="0.5"/>
<line x1="216.6" y1="74.3" x2="217.5" y2="74.3" stroke="#888" stroke-width="0.5"/>
<line x1="216.6" y1="77.4" x2="217.5" y2="77.4" stroke="#888" stroke-width="0.5"/>
<line x1="216.6" y1="80.5" x2="217.5" y2="80.5" stroke="#888" stroke-width="0.5"/>
<line x1="216.6" y1="83.6" x2="217.5" y2="83.6" stroke="#888" stroke-width="0.5"/>
<line x1="216.6" y1="86.6" x2="217.5" y2="86.6" stroke="#888" stroke-width="0.5"/>
<line x1="216.6" y1="89.7" x2="217.5" y2="89.7" stroke="#888" stroke-width="0.5"/>
<line x1="216.6" y1="92.8" x2="217.5" y2="92.8" stroke="#888" stroke-width="0.5"/>
<line x1="216.6" y1="95.9" x2="217.5" y2="95.9" stroke="#888" stroke-width="0.5"/>
<line x1="216.6" y1="99.0" x2="217.5" y2="99.0" stroke="#888" stroke-width="0.5"/>
<line x1="216.6" y1="102.1" x2="217.5" y2="102.1" stroke="#888" stroke-width="0.5"/>
<line x1="216.6" y1="105.2" x2="217.5" y2="105.2" stroke="#888" stroke-width="0.5"/>
<line x1="216.6" y1="108.3" x2="217.5" y2="108.3" stroke="#888" stroke-width="0.5"/>
<line x1="216.6" y1="111.3" x2="217.5" y2="111.3" stroke="#888" stroke-width="0.5"/>
<line x1="216.6" y1="114.4" x2="217.5" y2="114.4" stroke="#888" stroke-width="0.5"/>
<line x1="216.6" y1="117.5" x2="217.5" y2="117.5" stroke="#888" stroke-width="0.5"/>
<line x1="216.6" y1="120.6" x2="217.5" y2="120.6" stroke="#888" stroke-width="0.5"/>
<line x1="190.6" y1="139.6" x2="236.6" y2="139.6" stroke="#111" stroke-width="1.6"/>
<polyline points="232.1,136.5 237.4,139.6 232.1,142.7" fill="none" stroke="#111" stroke-width="1.5"/>
<text x="186.5" y="149.8" font-size="8.6" font-weight="bold" fill="#111" text-anchor="start" textLength="55.4" lengthAdjust="spacingAndGlyphs" stroke="#111" stroke-width="0.2" >3G9 (hDEC205)</text>
<polyline points="132.50,123.50 132.52,122.43 132.52,121.40 132.54,120.44 132.49,119.15 132.59,118.24 132.59,116.98 132.56,116.29 132.53,115.36 132.64,113.86 132.52,113.07 132.67,111.94 132.62,110.96 132.66,109.86 132.79,109.00 132.83,107.87 132.89,106.98 132.97,105.76 133.12,105.03 133.15,103.84 133.27,103.18 133.31,101.92 133.56,101.11 133.75,99.96 133.90,99.09 133.98,98.04 134.23,97.17 134.34,96.04 134.43,94.87 134.67,93.96 134.71,93.02 134.92,92.09 135.00,90.97 135.15,90.14 135.28,88.95 135.41,87.76 135.47,87.10 135.74,86.05 135.78,84.84 135.89,84.24 136.03,83.02 136.13,81.87 136.17,81.23 136.27,79.98 136.32,79.02 136.51,77.75 136.58,77.16 136.69,76.12 136.77,75.01 136.82,73.96 136.84,73.19 137.01,71.85 137.12,70.99 137.22,69.92 137.37,69.06 137.50,67.98 137.53,66.86 137.67,66.04 137.89,65.15 138.00,64.16 138.04,63.17 138.23,61.79 138.27,60.76 138.52,59.87 138.56,59.06 138.74,57.78 138.85,57.01 138.99,55.89 139.21,54.98 139.29,53.99 139.39,52.94 139.59,51.84 139.81,51.07 140.13,49.59 140.42,48.76 140.73,49.49 141.15,50.98 141.55,52.10 141.76,53.02 141.82,54.24 142.03,55.01 142.08,56.07 142.23,57.04 142.35,58.07 142.44,58.90 142.71,60.19 142.74,61.18 142.87,62.22 143.08,62.96 143.14,63.75 143.38,64.77 143.51,66.23 143.61,66.84 143.80,68.24 143.91,69.00 144.00,69.92 144.12,71.09 144.29,71.85 144.36,73.08 144.50,74.00 144.62,75.19 144.82,75.76 144.83,76.91 145.07,78.14 145.08,78.86 145.25,80.17 145.40,80.92 145.51,82.09 145.57,83.24 145.64,84.11 145.74,84.83 145.96,85.86 146.04,87.05 146.15,87.93 146.18,88.90 146.36,90.05 146.47,91.19 146.45,92.03 146.54,92.77 146.64,94.18 146.84,95.16 146.98,96.06 147.24,96.94 147.41,97.86 147.54,98.88 147.86,100.03 148.16,100.98 148.37,102.14 148.75,102.76 149.03,103.80 149.44,105.29 149.93,106.07 150.74,107.26 151.28,108.23 151.96,109.62 152.82,110.91 153.73,112.14 154.39,112.66 154.88,113.62 155.44,114.58 156.10,115.06 156.91,116.00 157.51,116.87 158.47,117.75 159.55,119.18 160.42,119.53 161.23,120.33 162.53,120.71 163.76,121.13 164.99,121.51 165.99,121.54 166.98,121.63 168.02,121.73 169.01,121.84 170.02,121.89 170.99,121.96 171.99,122.10 173.01,122.12 173.99,122.22 175.00,122.31 175.99,122.29 176.99,122.33 178.00,122.36 178.99,122.45 179.99,122.49 181.00,122.53 181.99,122.53 183.01,122.53 184.01,122.58 185.01,122.67 186.01,122.65 186.99,122.70 188.01,122.72 189.01,122.74 190.01,122.77 191.00,122.84 192.01,122.86 193.01,122.87 194.00,122.86 195.00,122.87 196.00,122.92 197.00,122.91 198.01,122.96 199.00,122.97 200.00,122.98 201.00,122.99 202.00,123.00 203.00,123.03 204.00,123.04 205.00,123.06 206.00,123.08 207.00,123.11 208.00,123.13 209.00,123.13 210.00,123.16 211.00,123.18 212.00,123.20" fill="none" stroke="#e21b1b" stroke-width="1.85" stroke-linejoin="round" stroke-linecap="round" opacity="1"/>
<polyline points="132.50,123.50 133.20,120.00 134.30,112.00 135.00,105.00 135.70,100.00 136.80,85.00 137.80,70.00 138.80,60.00 139.70,52.00 140.60,48.10 141.60,52.00 142.70,60.00 143.75,70.00 145.20,85.00 146.50,100.00 147.20,108.00 148.00,115.00 149.30,120.80 152.00,122.90 160.00,123.40 212.00,123.50" fill="none" stroke="#2a20b8" stroke-width="1.85" stroke-linejoin="round" stroke-linecap="round" opacity="1"/>
<polyline points="217.60,123.70 217.58,122.73 217.62,121.91 217.62,120.86 217.62,120.06 217.61,118.87 217.58,118.08 217.65,117.63 217.71,116.35 217.59,115.20 217.49,114.09 217.59,113.40 217.57,112.93 217.61,111.74 217.54,110.39 217.56,109.56 217.60,109.32 217.64,107.75 217.92,107.24 218.11,106.33 218.34,105.23 218.46,104.38 218.89,102.73 219.11,102.17 219.32,101.02 219.60,100.34 219.70,99.33 219.76,98.43 220.00,97.16 220.02,96.59 220.15,95.30 220.13,94.23 220.35,93.17 220.50,92.31 220.60,91.41 220.71,90.79 220.70,89.70 220.84,88.82 220.85,87.58 221.00,87.22 221.13,85.60 221.28,85.18 221.39,83.82 221.43,82.77 221.50,82.01 221.48,81.55 221.54,80.33 221.81,79.17 221.74,78.74 221.88,77.67 221.88,76.45 222.00,75.76 222.06,75.05 222.14,73.93 222.22,72.62 222.50,71.60 222.44,71.09 222.57,69.63 222.84,68.81 222.73,68.06 222.98,67.47 222.98,66.23 223.08,65.41 223.37,64.74 223.52,63.84 223.63,62.89 223.66,61.60 223.82,60.76 223.80,59.96 224.15,58.70 224.23,57.91 224.37,56.72 224.64,55.81 224.71,54.94 224.73,54.05 224.91,52.65 225.19,51.83 225.50,51.31 225.90,50.69 226.30,49.80 226.44,48.46 226.72,49.49 227.10,50.57 227.40,51.06 227.61,52.19 227.80,52.71 228.18,53.69 228.69,54.79 228.97,55.75 229.44,56.77 229.75,57.97 229.95,59.11 230.18,60.33 230.61,61.18 230.73,62.01 231.02,62.64 231.08,63.92 231.12,64.48 231.37,65.59 231.40,66.94 231.53,67.33 231.72,68.30 231.58,69.45 231.70,70.04 231.98,71.24 231.88,71.96 232.09,72.92 232.14,73.93 232.22,74.61 232.40,76.06 232.43,76.85 232.57,77.63 232.72,78.47 232.92,79.34 232.87,80.05 232.97,81.57 233.21,82.58 233.33,82.76 233.43,84.29 233.55,85.00 233.57,85.90 233.77,86.69 233.81,87.79 234.01,88.99 234.10,89.96 234.05,90.41 234.20,91.37 234.28,92.64 234.50,93.51 234.58,94.05 234.57,95.71 234.62,96.18 234.70,96.86 234.99,98.52 235.04,98.77 235.05,99.79 235.32,101.14 235.45,102.02 235.56,103.03 235.94,104.20 235.92,105.01 236.25,105.81 236.59,106.89 236.85,107.76 237.22,108.98 237.42,109.38 237.69,110.21 238.02,111.81 238.42,112.33 239.00,113.07 239.55,114.32 240.05,114.78 240.86,115.41 241.56,116.43 242.31,117.33 242.94,117.90 243.78,118.42 244.69,118.89 245.31,119.28 246.23,120.00 247.02,120.44 247.94,120.78 249.03,120.94 250.04,121.33 250.96,121.59 252.02,121.72 253.02,122.07 253.98,122.36 254.98,122.57 256.00,122.77 257.00,122.90 257.99,123.04 258.99,123.06 260.00,123.22 261.00,123.31 262.00,123.41 262.90,123.40 263.80,123.40 264.70,123.43 265.60,123.44 266.50,123.43 267.40,123.45 268.30,123.44 269.20,123.46 270.10,123.46 271.00,123.48 271.90,123.48 272.80,123.49 273.70,123.51 274.60,123.51 275.50,123.51 276.40,123.51 277.30,123.52 278.20,123.54 279.10,123.54 280.00,123.54 280.90,123.56 281.80,123.57 282.70,123.57 283.60,123.58 284.50,123.58 285.40,123.60 286.30,123.61 287.20,123.61 288.10,123.61 289.00,123.62 289.90,123.63 290.80,123.64 291.70,123.65 292.60,123.65 293.50,123.66 294.40,123.67 295.30,123.68 296.20,123.68 297.10,123.69 298.00,123.70" fill="none" stroke="#e21b1b" stroke-width="1.85" stroke-linejoin="round" stroke-linecap="round" opacity="1"/>
<polyline points="218.00,123.70 218.60,118.00 219.60,110.00 220.70,100.00 222.00,85.00 223.40,70.00 224.60,60.00 225.60,53.00 227.00,48.00 228.40,57.00 229.80,59.80 230.50,70.00 231.50,80.00 233.10,100.00 234.00,108.00 235.00,115.00 236.80,120.60 239.00,123.00 245.00,123.60 298.30,123.70" fill="none" stroke="#2a20b8" stroke-width="1.85" stroke-linejoin="round" stroke-linecap="round" opacity="1"/>
<text x="146.9" y="169.8" font-size="10.3" font-weight="bold" fill="#111" text-anchor="start" textLength="17.5" lengthAdjust="spacingAndGlyphs" stroke="#111" stroke-width="0.2" >CD8</text>
<text x="164.5" y="169.8" font-size="10.8" font-family="Liberation Serif" fill="#111" stroke="#111" stroke-width="0.35" textLength="7.3" lengthAdjust="spacingAndGlyphs">α</text>
<text x="172.1" y="165.9" font-size="7.2" font-weight="bold" fill="#111" text-anchor="start" textLength="4.2" lengthAdjust="spacingAndGlyphs" stroke="#111" stroke-width="0.2" >+</text>
<text x="177.6" y="169.8" font-size="10.3" font-weight="bold" fill="#111" text-anchor="start" textLength="17.8" lengthAdjust="spacingAndGlyphs" stroke="#111" stroke-width="0.2" >DCs</text>
<text x="232.8" y="169.5" font-size="10.3" font-weight="bold" fill="#111" text-anchor="start" textLength="17.5" lengthAdjust="spacingAndGlyphs" stroke="#111" stroke-width="0.2" >CD8</text>
<text x="250.4" y="169.5" font-size="10.8" font-family="Liberation Serif" fill="#111" stroke="#111" stroke-width="0.35" textLength="7.3" lengthAdjust="spacingAndGlyphs">α</text>
<rect x="258.7" y="162.9" width="3.2" height="1.1" fill="#111"/>
<text x="263.5" y="169.5" font-size="10.3" font-weight="bold" fill="#111" text-anchor="start" textLength="17.8" lengthAdjust="spacingAndGlyphs" stroke="#111" stroke-width="0.2" >DCs</text>
<rect x="132.5" y="173.5" width="81.0" height="80.80000000000001" fill="none" stroke="#a4a4a4" stroke-width="1.3"/>
<line x1="132.5" y1="173.5" x2="213.5" y2="173.5" stroke="#9c9c9c" stroke-width="1.3"/>
<line x1="132.5" y1="174.2" x2="132.5" y2="254.3" stroke="#fff" stroke-width="1.4"/>
<line x1="132.5" y1="174.2" x2="132.5" y2="254.3" stroke="#b4b8b0" stroke-width="1"/>
<line x1="130.7" y1="177.1" x2="132.5" y2="177.1" stroke="#666" stroke-width="0.8"/>
<text x="130.2" y="178.18" font-size="3.0" font-weight="bold" fill="#2a2a2a" text-anchor="end" textLength="6.51" lengthAdjust="spacingAndGlyphs">100</text>
<line x1="130.7" y1="192.54" x2="132.5" y2="192.54" stroke="#666" stroke-width="0.8"/>
<text x="130.2" y="193.62" font-size="3.0" font-weight="bold" fill="#2a2a2a" text-anchor="end" textLength="4.34" lengthAdjust="spacingAndGlyphs">80</text>
<line x1="130.7" y1="207.98" x2="132.5" y2="207.98" stroke="#666" stroke-width="0.8"/>
<text x="130.2" y="209.06" font-size="3.0" font-weight="bold" fill="#2a2a2a" text-anchor="end" textLength="4.34" lengthAdjust="spacingAndGlyphs">60</text>
<line x1="130.7" y1="223.42000000000002" x2="132.5" y2="223.42000000000002" stroke="#666" stroke-width="0.8"/>
<text x="130.2" y="224.50000000000003" font-size="3.0" font-weight="bold" fill="#2a2a2a" text-anchor="end" textLength="4.34" lengthAdjust="spacingAndGlyphs">40</text>
<line x1="130.7" y1="238.86" x2="132.5" y2="238.86" stroke="#666" stroke-width="0.8"/>
<text x="130.2" y="239.94000000000003" font-size="3.0" font-weight="bold" fill="#2a2a2a" text-anchor="end" textLength="4.34" lengthAdjust="spacingAndGlyphs">20</text>
<line x1="130.7" y1="254.3" x2="132.5" y2="254.3" stroke="#666" stroke-width="0.8"/>
<text x="130.2" y="255.38000000000002" font-size="3.0" font-weight="bold" fill="#2a2a2a" text-anchor="end" textLength="2.17" lengthAdjust="spacingAndGlyphs">0</text>
<line x1="131.6" y1="176.5" x2="132.5" y2="176.5" stroke="#888" stroke-width="0.5"/>
<line x1="131.6" y1="179.6" x2="132.5" y2="179.6" stroke="#888" stroke-width="0.5"/>
<line x1="131.6" y1="182.7" x2="132.5" y2="182.7" stroke="#888" stroke-width="0.5"/>
<line x1="131.6" y1="185.8" x2="132.5" y2="185.8" stroke="#888" stroke-width="0.5"/>
<line x1="131.6" y1="188.9" x2="132.5" y2="188.9" stroke="#888" stroke-width="0.5"/>
<line x1="131.6" y1="192.1" x2="132.5" y2="192.1" stroke="#888" stroke-width="0.5"/>
<line x1="131.6" y1="195.2" x2="132.5" y2="195.2" stroke="#888" stroke-width="0.5"/>
<line x1="131.6" y1="198.3" x2="132.5" y2="198.3" stroke="#888" stroke-width="0.5"/>
<line x1="131.6" y1="201.4" x2="132.5" y2="201.4" stroke="#888" stroke-width="0.5"/>
<line x1="131.6" y1="204.5" x2="132.5" y2="204.5" stroke="#888" stroke-width="0.5"/>
<line x1="131.6" y1="207.6" x2="132.5" y2="207.6" stroke="#888" stroke-width="0.5"/>
<line x1="131.6" y1="210.7" x2="132.5" y2="210.7" stroke="#888" stroke-width="0.5"/>
<line x1="131.6" y1="213.8" x2="132.5" y2="213.8" stroke="#888" stroke-width="0.5"/>
<line x1="131.6" y1="217.0" x2="132.5" y2="217.0" stroke="#888" stroke-width="0.5"/>
<line x1="131.6" y1="220.1" x2="132.5" y2="220.1" stroke="#888" stroke-width="0.5"/>
<line x1="131.6" y1="223.2" x2="132.5" y2="223.2" stroke="#888" stroke-width="0.5"/>
<line x1="131.6" y1="226.3" x2="132.5" y2="226.3" stroke="#888" stroke-width="0.5"/>
<line x1="131.6" y1="229.4" x2="132.5" y2="229.4" stroke="#888" stroke-width="0.5"/>
<line x1="131.6" y1="232.5" x2="132.5" y2="232.5" stroke="#888" stroke-width="0.5"/>
<line x1="131.6" y1="235.6" x2="132.5" y2="235.6" stroke="#888" stroke-width="0.5"/>
<line x1="131.6" y1="238.7" x2="132.5" y2="238.7" stroke="#888" stroke-width="0.5"/>
<line x1="131.6" y1="241.9" x2="132.5" y2="241.9" stroke="#888" stroke-width="0.5"/>
<line x1="131.6" y1="245.0" x2="132.5" y2="245.0" stroke="#888" stroke-width="0.5"/>
<line x1="131.6" y1="248.1" x2="132.5" y2="248.1" stroke="#888" stroke-width="0.5"/>
<line x1="131.6" y1="251.2" x2="132.5" y2="251.2" stroke="#888" stroke-width="0.5"/>
<line x1="139.4" y1="254.3" x2="139.4" y2="255.9" stroke="#666" stroke-width="0.8"/>
<text x="139.4" y="261.5" font-size="4.0" font-weight="bold" fill="#2a2a2a" text-anchor="middle" textLength="2.22" lengthAdjust="spacingAndGlyphs">0</text>
<line x1="148" y1="254.3" x2="148" y2="255.9" stroke="#666" stroke-width="0.8"/>
<text x="148" y="261.5" font-size="4.0" font-weight="bold" fill="#2a2a2a" text-anchor="middle">10<tspan font-size="3.00" dy="-1.80">2</tspan></text>
<line x1="167.5" y1="254.3" x2="167.5" y2="255.9" stroke="#666" stroke-width="0.8"/>
<text x="167.5" y="261.5" font-size="4.0" font-weight="bold" fill="#2a2a2a" text-anchor="middle">10<tspan font-size="3.00" dy="-1.80">3</tspan></text>
<line x1="185.6" y1="254.3" x2="185.6" y2="255.9" stroke="#666" stroke-width="0.8"/>
<text x="185.6" y="261.5" font-size="4.0" font-weight="bold" fill="#2a2a2a" text-anchor="middle">10<tspan font-size="3.00" dy="-1.80">4</tspan></text>
<line x1="204" y1="254.3" x2="204" y2="255.9" stroke="#666" stroke-width="0.8"/>
<text x="204" y="261.5" font-size="4.0" font-weight="bold" fill="#2a2a2a" text-anchor="middle">10<tspan font-size="3.00" dy="-1.80">5</tspan></text>
<rect x="217.5" y="173.5" width="81.0" height="80.80000000000001" fill="none" stroke="#a4a4a4" stroke-width="1.3"/>
<line x1="217.5" y1="173.5" x2="298.5" y2="173.5" stroke="#9c9c9c" stroke-width="1.3"/>
<line x1="217.5" y1="174.2" x2="217.5" y2="254.3" stroke="#fff" stroke-width="1.4"/>
<line x1="217.5" y1="174.2" x2="217.5" y2="254.3" stroke="#b4b8b0" stroke-width="1"/>
<line x1="215.7" y1="177.1" x2="217.5" y2="177.1" stroke="#666" stroke-width="0.8"/>
<line x1="215.7" y1="192.54" x2="217.5" y2="192.54" stroke="#666" stroke-width="0.8"/>
<line x1="215.7" y1="207.98" x2="217.5" y2="207.98" stroke="#666" stroke-width="0.8"/>
<line x1="215.7" y1="223.42000000000002" x2="217.5" y2="223.42000000000002" stroke="#666" stroke-width="0.8"/>
<line x1="215.7" y1="238.86" x2="217.5" y2="238.86" stroke="#666" stroke-width="0.8"/>
<line x1="215.7" y1="254.3" x2="217.5" y2="254.3" stroke="#666" stroke-width="0.8"/>
<line x1="216.6" y1="176.5" x2="217.5" y2="176.5" stroke="#888" stroke-width="0.5"/>
<line x1="216.6" y1="179.6" x2="217.5" y2="179.6" stroke="#888" stroke-width="0.5"/>
<line x1="216.6" y1="182.7" x2="217.5" y2="182.7" stroke="#888" stroke-width="0.5"/>
<line x1="216.6" y1="185.8" x2="217.5" y2="185.8" stroke="#888" stroke-width="0.5"/>
<line x1="216.6" y1="188.9" x2="217.5" y2="188.9" stroke="#888" stroke-width="0.5"/>
<line x1="216.6" y1="192.1" x2="217.5" y2="192.1" stroke="#888" stroke-width="0.5"/>
<line x1="216.6" y1="195.2" x2="217.5" y2="195.2" stroke="#888" stroke-width="0.5"/>
<line x1="216.6" y1="198.3" x2="217.5" y2="198.3" stroke="#888" stroke-width="0.5"/>
<line x1="216.6" y1="201.4" x2="217.5" y2="201.4" stroke="#888" stroke-width="0.5"/>
<line x1="216.6" y1="204.5" x2="217.5" y2="204.5" stroke="#888" stroke-width="0.5"/>
<line x1="216.6" y1="207.6" x2="217.5" y2="207.6" stroke="#888" stroke-width="0.5"/>
<line x1="216.6" y1="210.7" x2="217.5" y2="210.7" stroke="#888" stroke-width="0.5"/>
<line x1="216.6" y1="213.8" x2="217.5" y2="213.8" stroke="#888" stroke-width="0.5"/>
<line x1="216.6" y1="217.0" x2="217.5" y2="217.0" stroke="#888" stroke-width="0.5"/>
<line x1="216.6" y1="220.1" x2="217.5" y2="220.1" stroke="#888" stroke-width="0.5"/>
<line x1="216.6" y1="223.2" x2="217.5" y2="223.2" stroke="#888" stroke-width="0.5"/>
<line x1="216.6" y1="226.3" x2="217.5" y2="226.3" stroke="#888" stroke-width="0.5"/>
<line x1="216.6" y1="229.4" x2="217.5" y2="229.4" stroke="#888" stroke-width="0.5"/>
<line x1="216.6" y1="232.5" x2="217.5" y2="232.5" stroke="#888" stroke-width="0.5"/>
<line x1="216.6" y1="235.6" x2="217.5" y2="235.6" stroke="#888" stroke-width="0.5"/>
<line x1="216.6" y1="238.7" x2="217.5" y2="238.7" stroke="#888" stroke-width="0.5"/>
<line x1="216.6" y1="241.9" x2="217.5" y2="241.9" stroke="#888" stroke-width="0.5"/>
<line x1="216.6" y1="245.0" x2="217.5" y2="245.0" stroke="#888" stroke-width="0.5"/>
<line x1="216.6" y1="248.1" x2="217.5" y2="248.1" stroke="#888" stroke-width="0.5"/>
<line x1="216.6" y1="251.2" x2="217.5" y2="251.2" stroke="#888" stroke-width="0.5"/>
<line x1="191.2" y1="270.3" x2="238.2" y2="270.3" stroke="#111" stroke-width="1.6"/>
<polyline points="233.7,267.2 239,270.3 233.7,273.40000000000003" fill="none" stroke="#111" stroke-width="1.5"/>
<text x="186.5" y="281" font-size="8.6" font-weight="bold" fill="#111" text-anchor="start" textLength="55.4" lengthAdjust="spacingAndGlyphs" stroke="#111" stroke-width="0.2" >3G9 (hDEC205)</text>
<polyline points="133.00,254.20 133.21,253.33 133.44,252.27 133.57,251.72 133.81,250.47 134.20,249.75 134.39,248.86 134.55,247.58 134.68,247.52 134.78,246.44 134.97,244.71 135.13,244.42 135.10,242.82 135.44,242.43 135.52,241.99 135.65,241.12 135.67,240.05 135.83,239.29 136.12,237.36 135.98,236.58 136.42,235.92 136.43,234.84 136.52,234.02 136.60,233.33 136.82,232.79 136.99,231.90 137.19,231.05 137.25,229.13 137.46,229.17 137.61,227.78 137.67,226.42 137.85,225.93 137.79,224.40 138.13,224.59 137.95,223.44 138.17,221.73 138.23,221.55 138.53,219.76 138.54,218.84 138.68,218.26 138.84,218.12 138.80,217.21 138.83,215.18 139.04,214.21 138.99,213.74 139.24,212.51 139.14,212.44 139.35,211.55 139.67,209.85 139.62,209.02 139.80,208.11 139.88,207.14 140.13,206.01 140.06,205.26 140.11,203.76 140.57,203.13 140.62,201.61 140.77,201.40 140.83,200.54 141.25,198.97 141.55,198.58 141.86,197.57 142.17,197.16 142.23,195.47 142.80,195.70 142.99,194.23 143.45,193.20 143.71,192.34 144.05,191.81 144.13,190.60 144.40,189.23 144.42,189.13 144.43,187.57 144.71,186.64 144.59,185.92 144.87,184.57 144.84,183.90 145.12,183.08 145.23,181.80 145.14,181.43 145.44,180.24 145.30,178.90 145.51,178.03 145.79,179.81 145.75,180.13 146.15,181.57 146.33,182.21 146.27,183.15 147.21,184.03 147.74,185.10 148.47,185.99 148.76,186.62 148.54,188.50 148.96,189.49 148.90,190.38 149.19,190.45 149.23,192.12 149.31,192.67 149.28,193.39 149.37,194.00 149.60,195.20 149.79,195.85 149.93,197.56 150.05,198.74 150.14,199.29 149.97,198.57 150.18,197.12 150.51,196.47 150.57,196.05 150.79,194.41 150.81,194.11 151.04,193.10 151.15,191.48 151.36,191.30 151.38,190.35 151.79,189.43 151.90,187.53 151.97,187.62 151.90,185.97 152.12,185.33 152.31,184.33 152.58,182.82 152.46,182.03 152.62,181.02 153.07,181.03 152.94,181.52 153.21,182.21 153.40,183.52 153.67,184.09 153.72,184.97 153.88,186.15 154.28,186.86 154.18,187.51 154.41,188.93 154.69,189.56 154.82,190.75 154.82,191.35 154.97,192.64 155.07,193.53 155.27,192.08 155.49,191.71 155.51,190.47 155.82,190.11 156.19,188.59 156.37,188.17 156.33,186.87 156.46,186.38 156.92,185.50 157.23,184.28 157.46,183.20 157.50,182.27 157.72,180.77 158.12,181.63 158.00,182.67 158.40,183.75 158.22,185.52 158.37,186.50 158.70,187.47 158.92,188.14 158.99,188.47 159.10,190.01 159.17,190.44 159.27,192.35 159.12,192.54 159.39,194.06 159.37,194.20 159.46,195.64 159.73,196.29 159.69,197.21 159.77,198.15 159.77,199.17 160.18,199.98 160.19,200.59 160.28,200.40 160.39,199.21 160.44,198.45 160.70,196.95 160.53,196.76 160.94,195.58 160.88,194.91 160.90,193.46 161.02,192.94 161.18,191.61 161.43,191.57 161.40,190.36 161.55,189.63 161.73,188.02 161.84,188.63 162.17,189.96 162.29,190.83 162.59,192.23 162.76,193.39 163.12,193.82 163.35,195.00 163.72,195.57 164.29,196.86 165.13,197.58 165.83,199.10 166.49,199.08 167.70,199.06 168.71,200.20 169.63,200.19 169.50,201.15 169.61,202.62 169.97,203.79 169.86,204.69 170.00,205.10 170.26,205.63 170.14,207.46 170.33,207.83 170.47,209.18 170.30,209.75 170.49,210.90 170.44,211.99 170.75,212.73 170.63,213.38 170.57,215.01 170.55,216.25 170.87,216.27 170.92,217.58 170.90,219.01 170.93,219.79 171.26,220.83 171.32,221.66 171.77,222.44 171.81,222.65 172.00,223.82 172.45,225.18 172.76,225.55 173.15,227.06 173.63,228.02 174.46,227.75 174.83,228.72 174.89,230.36 175.26,231.12 175.55,231.95 175.78,232.61 176.04,234.26 176.64,235.05 176.99,235.83 177.74,236.31 178.88,236.35 179.21,237.37 179.77,238.27 180.08,239.11 180.61,240.33 181.33,240.97 182.04,240.82 182.82,241.19 183.85,242.47 184.10,242.68 184.64,244.19 185.25,245.05 185.63,245.18 186.51,245.93 187.51,247.08 188.17,247.45 189.15,247.96 189.92,249.64 190.71,249.90 191.46,250.66 192.32,251.49 193.18,251.70 194.04,252.39 194.96,252.81 195.87,253.14 196.86,253.42 197.80,253.76 198.75,254.10 199.66,254.11 200.57,254.11 201.48,254.13 202.39,254.12 203.30,254.13 204.20,254.14 205.11,254.14 206.03,254.15 206.93,254.16 207.84,254.16 208.75,254.17 209.66,254.18 210.57,254.18 211.48,254.19 212.39,254.19 213.30,254.20" fill="none" stroke="#e21b1b" stroke-width="1.85" stroke-linejoin="round" stroke-linecap="round" opacity="1"/>
<polyline points="132.00,254.20 132.19,253.15 132.37,252.14 132.62,251.21 132.80,250.02 132.98,248.99 133.12,247.87 133.32,247.26 133.60,246.18 133.80,244.85 133.91,244.06 134.15,243.18 134.36,241.79 134.51,241.09 134.68,239.84 134.86,238.79 135.11,238.18 135.24,236.90 135.48,236.04 135.66,235.17 135.70,233.96 135.81,232.97 135.85,231.90 136.05,230.77 136.03,230.06 136.17,229.02 136.30,227.92 136.47,226.85 136.49,225.85 136.62,224.89 136.68,224.12 136.77,223.03 136.96,221.80 136.93,220.86 137.09,220.06 137.07,218.92 137.12,217.98 137.15,217.10 137.33,216.23 137.37,215.23 137.31,213.89 137.51,213.14 137.48,212.22 137.57,211.16 137.57,209.85 137.65,208.82 137.70,208.23 137.74,206.75 137.76,205.83 137.92,204.93 137.90,203.80 138.06,202.96 138.00,201.78 138.03,200.83 138.21,199.82 138.20,199.00 138.31,198.25 138.38,197.01 138.56,195.95 138.67,194.99 138.64,193.96 138.70,192.96 138.81,192.19 138.98,191.00 138.95,189.88 139.06,188.85 139.14,188.16 139.21,186.74 139.40,185.97 139.49,184.87 139.56,183.98 139.62,183.00 139.66,181.66 139.70,181.03 139.88,180.03 139.88,178.88 140.28,179.99 140.61,181.05 140.92,182.24 141.20,183.48 141.64,184.17 141.97,185.73 142.13,184.16 142.36,183.08 142.57,182.23 142.63,180.87 142.92,179.95 143.14,179.01 143.16,179.55 143.38,180.56 143.48,181.61 143.58,182.94 143.69,183.83 143.80,184.65 143.88,185.72 144.02,186.94 144.06,187.81 144.10,188.57 144.29,189.79 144.44,190.85 144.44,191.73 144.64,192.81 144.63,193.99 144.85,194.63 144.91,195.80 145.04,196.78 145.06,197.88 145.27,198.71 145.24,199.99 145.46,200.95 145.49,202.14 145.64,202.77 145.76,203.85 145.71,205.17 145.78,206.15 145.78,207.19 145.83,207.82 145.92,208.92 145.97,210.20 146.04,210.75 146.02,212.02 146.09,213.11 146.14,213.79 146.14,215.17 146.20,216.13 146.34,217.06 146.34,218.05 146.33,219.21 146.40,220.21 146.45,221.18 146.59,222.06 146.62,222.82 146.74,223.93 146.80,224.82 146.79,225.82 146.97,226.84 147.06,227.94 147.09,228.93 147.17,229.80 147.21,231.22 147.25,232.08 147.36,232.90 147.40,233.76 147.63,235.16 147.70,236.15 147.81,236.83 147.84,238.00 147.92,239.22 148.04,240.23 148.18,241.18 148.51,242.32 148.74,243.47 148.93,244.61 149.19,245.55 149.86,246.70 150.37,247.57 150.98,248.86 152.06,249.75 152.99,250.37 154.03,250.64 154.99,250.87 155.97,250.51 157.01,251.18 157.99,251.89 159.01,251.87 159.98,252.15 161.02,252.27 162.01,251.86 162.97,251.55 163.98,251.96 165.02,252.21 165.98,252.40 166.99,252.78 167.99,253.03 169.01,253.08 170.01,253.12 171.00,253.19 171.99,253.25 173.00,253.33 173.99,253.46 175.00,253.52 176.00,253.54 177.00,253.58 178.01,253.60 179.00,253.63 180.00,253.65 181.00,253.67 182.00,253.71 183.00,253.73 184.00,253.76 185.00,253.81 186.01,253.80 187.02,253.81 188.03,253.83 189.04,253.84 190.05,253.83 191.07,253.85 192.07,253.85 193.09,253.86 194.09,253.87 195.11,253.88 196.12,253.89 197.13,253.89 198.14,253.90 199.15,253.90 200.16,253.90 201.17,253.92 202.18,253.91 203.19,253.92 204.21,253.94 205.21,253.95 206.23,253.95 207.24,253.97 208.25,253.97 209.26,253.98 210.27,253.98 211.28,253.98 212.29,254.00 213.30,254.00" fill="none" stroke="#2a20b8" stroke-width="1.85" stroke-linejoin="round" stroke-linecap="round" opacity="1"/>
<polyline points="217.40,254.10 217.42,253.26 217.44,252.41 217.35,251.31 217.53,250.51 217.55,249.12 217.44,248.27 217.47,247.71 217.29,246.36 217.40,246.27 217.58,244.44 217.60,243.49 217.54,242.55 217.32,242.45 217.40,240.66 217.67,240.45 217.42,239.55 217.51,238.21 217.39,237.53 217.57,236.56 217.99,236.76 218.15,237.60 218.34,238.64 218.66,240.46 218.82,241.71 219.04,240.36 219.31,239.64 219.23,238.73 219.47,237.30 219.67,236.34 219.69,236.41 219.58,235.35 219.85,234.09 219.87,232.46 220.09,232.55 220.24,231.31 220.65,230.53 220.54,228.92 220.71,228.51 220.66,227.57 221.01,226.80 220.83,225.99 220.95,224.35 221.24,224.14 221.24,223.24 221.42,221.59 221.43,220.52 221.45,219.58 221.75,219.69 221.64,217.64 222.02,217.31 221.89,216.05 222.04,215.85 222.07,214.45 222.01,214.14 222.09,212.72 222.46,211.37 222.50,211.45 222.55,210.35 222.45,209.01 222.56,208.60 222.70,207.22 223.04,206.79 223.13,205.40 223.04,204.82 223.13,203.39 223.19,202.30 223.27,202.40 223.57,201.06 223.50,199.81 223.49,198.82 223.87,198.62 223.86,197.62 224.14,196.60 224.24,195.77 224.27,194.79 224.38,193.62 224.69,192.96 224.65,192.35 224.92,191.01 224.82,190.06 225.06,189.31 225.29,188.58 225.50,187.66 225.55,186.57 225.84,185.89 225.85,185.01 226.18,183.93 226.37,183.35 226.36,181.94 226.38,181.40 227.07,180.14 227.40,179.60 227.83,178.11 229.10,178.90 230.56,179.30 230.68,180.70 230.83,181.60 230.75,181.90 231.04,183.46 231.10,184.47 231.50,184.74 231.69,186.00 231.79,186.92 232.13,188.02 232.15,188.82 232.30,190.21 232.41,191.44 232.33,192.80 232.31,193.18 232.46,194.16 232.46,195.65 232.68,195.65 232.89,196.68 232.99,197.93 233.13,199.62 233.34,199.93 233.46,201.16 233.43,201.51 233.63,202.98 234.05,204.44 234.21,204.68 234.60,205.24 234.60,206.89 235.07,207.36 235.36,209.24 235.56,209.67 235.85,210.42 236.47,211.46 236.82,213.02 237.03,213.16 237.52,214.37 237.67,215.08 238.32,216.21 238.52,217.11 238.91,218.20 239.48,218.72 240.05,220.28 240.22,220.84 240.88,222.14 241.62,222.13 242.00,222.85 242.82,223.83 243.24,224.87 244.10,225.55 244.99,225.49 245.84,226.24 246.61,226.80 247.40,227.54 248.34,227.83 249.31,228.61 249.93,228.70 250.68,230.24 251.44,230.53 251.73,231.55 252.47,232.05 253.17,232.86 253.51,234.03 253.90,234.25 254.49,234.86 254.71,236.46 255.04,237.30 256.27,236.27 257.12,236.14 257.87,236.31 258.23,237.74 258.76,238.42 259.16,239.66 259.91,239.98 260.57,241.55 261.64,242.03 262.23,242.77 262.82,244.40 262.97,244.56 263.92,244.76 264.75,245.64 265.68,244.66 266.43,245.60 267.21,245.65 268.15,245.53 269.06,245.81 269.72,246.64 270.55,246.67 271.55,247.91 272.48,247.60 273.14,248.25 274.01,248.87 274.93,249.18 275.46,250.11 276.28,250.69 277.13,251.48 277.91,251.95 278.78,252.37 279.68,252.87 280.60,253.19 281.49,253.69 282.44,253.69 283.37,253.74 284.29,253.76 285.23,253.74 286.17,253.77 287.11,253.80 288.03,253.83 288.96,253.85 289.89,253.83 290.84,253.88 291.76,253.87 292.71,253.91 293.64,253.90 294.57,253.93 295.50,253.94 296.43,253.96 297.37,253.97 298.30,254.00" fill="none" stroke="#e21b1b" stroke-width="1.85" stroke-linejoin="round" stroke-linecap="round" opacity="1"/>
<polyline points="217.20,254.10 217.36,253.06 217.50,252.08 217.68,251.09 217.83,250.09 217.98,249.10 218.19,247.97 218.32,247.07 218.44,246.02 218.68,244.91 218.84,244.07 219.04,242.93 219.15,242.12 219.44,240.98 219.55,239.88 219.74,238.92 219.90,238.04 219.94,237.06 220.08,236.17 220.27,235.01 220.37,234.08 220.51,233.19 220.54,231.94 220.70,230.92 220.79,229.84 220.92,229.01 220.91,228.07 221.03,226.88 221.14,225.86 221.20,225.15 221.34,223.81 221.44,222.81 221.48,222.16 221.61,220.92 221.69,219.96 221.76,219.20 221.85,217.97 222.03,216.96 222.16,215.90 222.26,215.16 222.32,214.16 222.39,213.13 222.54,212.01 222.60,211.08 222.69,209.83 222.84,208.91 222.92,208.11 222.99,206.81 223.09,206.04 223.23,204.90 223.35,204.17 223.44,202.96 223.63,202.04 223.66,200.99 223.80,199.86 223.87,198.92 224.00,197.93 224.06,197.19 224.17,195.95 224.21,194.93 224.27,194.00 224.40,193.17 224.41,191.80 224.51,190.82 224.54,190.11 224.72,189.06 224.91,188.13 225.13,186.76 225.22,186.09 225.43,184.86 225.62,183.99 225.74,182.83 225.86,181.76 226.03,180.85 226.25,179.63 226.42,178.59 226.49,179.84 226.66,180.97 226.82,181.91 226.89,182.99 227.02,183.94 227.25,185.08 227.38,185.93 227.49,187.09 227.56,188.18 227.79,188.98 227.92,189.98 228.00,191.08 228.12,192.12 228.38,192.91 228.52,193.83 228.65,194.91 228.81,195.97 228.88,196.81 228.86,198.13 229.01,199.01 229.02,199.87 229.15,200.82 229.30,202.11 229.38,203.08 229.39,203.83 229.52,204.85 229.58,205.99 229.65,206.83 229.68,208.01 229.76,209.01 229.86,209.91 230.02,211.03 230.21,211.89 230.35,213.03 230.59,213.97 230.66,214.93 230.83,216.03 231.05,217.03 231.14,217.93 231.33,218.98 231.49,220.20 231.63,221.06 231.77,222.06 231.90,222.95 232.00,224.19 232.06,225.05 232.21,225.82 232.28,227.10 232.41,228.08 232.53,228.95 232.64,230.02 232.84,230.89 232.93,232.17 233.01,232.99 233.17,234.15 233.21,235.06 233.31,235.84 233.53,236.82 233.63,238.10 233.71,239.09 233.82,239.91 234.13,241.05 234.51,242.44 234.83,243.39 235.51,244.50 236.23,245.80 236.79,246.72 237.29,247.68 237.75,248.54 238.56,249.46 239.37,250.61 240.37,251.33 241.42,251.99 242.41,252.40 243.39,252.86 244.59,253.07 245.81,253.28 247.00,253.49 248.00,253.53 249.00,253.59 250.00,253.62 251.00,253.65 252.00,253.68 253.00,253.73 254.00,253.76 255.00,253.80 256.01,253.81 257.01,253.80 258.02,253.81 259.03,253.82 260.04,253.83 261.04,253.83 262.05,253.83 263.06,253.84 264.06,253.84 265.07,253.84 266.08,253.86 267.08,253.85 268.09,253.85 269.10,253.87 270.11,253.86 271.11,253.87 272.12,253.88 273.13,253.89 274.13,253.89 275.14,253.89 276.15,253.90 277.15,253.91 278.16,253.91 279.17,253.91 280.17,253.92 281.18,253.92 282.19,253.92 283.20,253.93 284.20,253.94 285.21,253.94 286.22,253.94 287.22,253.95 288.23,253.95 289.24,253.96 290.24,253.96 291.25,253.97 292.26,253.97 293.27,253.98 294.27,253.98 295.28,253.98 296.28,253.99 297.29,254.00 298.30,254.00" fill="none" stroke="#2a20b8" stroke-width="1.85" stroke-linejoin="round" stroke-linecap="round" opacity="1"/>
<text x="368.1" y="39.4" font-size="10.2" font-weight="bold" fill="#111" text-anchor="start" textLength="37.5" lengthAdjust="spacingAndGlyphs" stroke="#111" stroke-width="0.2" >Non-DCs</text>
<text x="460.9" y="39.5" font-size="10.2" font-weight="bold" fill="#111" text-anchor="start" textLength="22.6" lengthAdjust="spacingAndGlyphs" stroke="#111" stroke-width="0.2" >PDCs</text>
<rect x="346.3" y="43.5" width="81.0" height="81.1" fill="none" stroke="#777" stroke-width="1.2"/>
<line x1="346.3" y1="43.5" x2="427.3" y2="43.5" stroke="#6a6a6a" stroke-width="1.2"/>
<line x1="344.3" y1="47.5" x2="346.3" y2="47.5" stroke="#555" stroke-width="0.8"/>
<line x1="344.3" y1="62.9" x2="346.3" y2="62.9" stroke="#555" stroke-width="0.8"/>
<line x1="344.3" y1="78.3" x2="346.3" y2="78.3" stroke="#555" stroke-width="0.8"/>
<line x1="344.3" y1="93.8" x2="346.3" y2="93.8" stroke="#555" stroke-width="0.8"/>
<line x1="344.3" y1="109.2" x2="346.3" y2="109.2" stroke="#555" stroke-width="0.8"/>
<line x1="344.3" y1="124.6" x2="346.3" y2="124.6" stroke="#555" stroke-width="0.8"/>
<rect x="432.5" y="43.5" width="81.0" height="81.1" fill="none" stroke="#777" stroke-width="1.2"/>
<line x1="432.5" y1="43.5" x2="513.5" y2="43.5" stroke="#6a6a6a" stroke-width="1.2"/>
<line x1="430.5" y1="47.5" x2="432.5" y2="47.5" stroke="#555" stroke-width="0.8"/>
<line x1="430.5" y1="62.9" x2="432.5" y2="62.9" stroke="#555" stroke-width="0.8"/>
<line x1="430.5" y1="78.3" x2="432.5" y2="78.3" stroke="#555" stroke-width="0.8"/>
<line x1="430.5" y1="93.8" x2="432.5" y2="93.8" stroke="#555" stroke-width="0.8"/>
<line x1="430.5" y1="109.2" x2="432.5" y2="109.2" stroke="#555" stroke-width="0.8"/>
<line x1="430.5" y1="124.6" x2="432.5" y2="124.6" stroke="#555" stroke-width="0.8"/>
<line x1="360" y1="124.6" x2="360" y2="126.2" stroke="#555" stroke-width="0.8"/>
<line x1="364" y1="124.6" x2="364" y2="126.2" stroke="#555" stroke-width="0.8"/>
<line x1="367" y1="124.6" x2="367" y2="126.2" stroke="#555" stroke-width="0.8"/>
<line x1="372" y1="124.6" x2="372" y2="126.2" stroke="#555" stroke-width="0.8"/>
<line x1="381" y1="124.6" x2="381" y2="126.2" stroke="#555" stroke-width="0.8"/>
<line x1="391" y1="124.6" x2="391" y2="126.2" stroke="#555" stroke-width="0.8"/>
<line x1="399" y1="124.6" x2="399" y2="126.2" stroke="#555" stroke-width="0.8"/>
<line x1="406" y1="124.6" x2="406" y2="126.2" stroke="#555" stroke-width="0.8"/>
<line x1="411" y1="124.6" x2="411" y2="126.2" stroke="#555" stroke-width="0.8"/>
<line x1="419" y1="124.6" x2="419" y2="126.2" stroke="#555" stroke-width="0.8"/>
<line x1="446" y1="124.6" x2="446" y2="126.2" stroke="#555" stroke-width="0.8"/>
<line x1="450" y1="124.6" x2="450" y2="126.2" stroke="#555" stroke-width="0.8"/>
<line x1="453" y1="124.6" x2="453" y2="126.2" stroke="#555" stroke-width="0.8"/>
<line x1="458" y1="124.6" x2="458" y2="126.2" stroke="#555" stroke-width="0.8"/>
<line x1="467" y1="124.6" x2="467" y2="126.2" stroke="#555" stroke-width="0.8"/>
<line x1="477" y1="124.6" x2="477" y2="126.2" stroke="#555" stroke-width="0.8"/>
<line x1="485" y1="124.6" x2="485" y2="126.2" stroke="#555" stroke-width="0.8"/>
<line x1="492" y1="124.6" x2="492" y2="126.2" stroke="#555" stroke-width="0.8"/>
<line x1="497" y1="124.6" x2="497" y2="126.2" stroke="#555" stroke-width="0.8"/>
<line x1="505" y1="124.6" x2="505" y2="126.2" stroke="#555" stroke-width="0.8"/>
<line x1="406.9" y1="139.6" x2="453.0" y2="139.6" stroke="#111" stroke-width="1.6"/>
<polyline points="448.5,136.5 453.8,139.6 448.5,142.7" fill="none" stroke="#111" stroke-width="1.5"/>
<text x="391.9" y="150.8" font-size="8.8" font-weight="bold" fill="#111" text-anchor="start" textLength="75.4" lengthAdjust="spacingAndGlyphs" stroke="#111" stroke-width="0.2" >Control human IgG1</text>
<polyline points="346.50,124.60 347.30,124.54 348.10,124.48 348.90,124.42 349.69,124.36 350.49,124.28 351.16,123.80 351.81,123.14 352.51,122.80 353.18,122.06 353.91,121.32 354.56,120.87 354.74,119.97 355.08,119.77 355.34,118.83 355.79,117.87 356.08,116.81 356.24,116.21 356.74,115.68 356.94,115.09 357.14,114.00 357.39,113.60 357.37,112.67 357.61,112.18 357.82,110.79 358.04,109.82 358.03,109.66 358.10,108.59 358.21,107.97 358.58,107.07 358.80,105.94 358.93,105.34 359.09,104.33 359.35,103.94 359.43,102.79 359.49,101.95 359.86,101.37 360.10,99.78 360.15,99.37 360.22,98.36 360.44,97.22 360.59,97.07 360.79,95.75 361.05,95.57 361.13,94.35 361.45,93.98 361.72,93.16 361.73,91.92 361.87,91.54 362.17,89.96 362.05,89.19 362.18,88.60 362.40,87.53 362.34,86.84 362.57,86.14 362.86,85.42 362.84,84.50 363.01,83.09 363.19,82.97 363.30,82.14 363.27,80.90 363.28,80.32 363.36,78.95 363.50,78.23 363.63,77.31 363.63,76.60 363.75,76.01 363.82,75.71 364.10,74.17 364.08,73.56 364.21,72.53 364.45,72.59 364.43,71.27 364.41,70.08 364.59,69.43 364.83,68.52 364.68,68.50 364.93,66.88 365.03,65.96 365.12,66.10 365.31,65.01 365.23,63.87 365.40,63.47 365.71,62.68 365.85,61.32 366.19,61.28 366.41,60.31 366.60,59.44 366.62,58.42 366.86,57.13 366.96,56.58 367.23,56.19 367.75,55.09 368.06,54.77 368.38,53.29 368.47,52.30 368.78,51.42 369.22,51.26 369.60,49.98 370.15,49.30 370.58,48.16 370.96,49.12 371.04,49.64 371.00,50.79 371.18,51.63 371.51,52.06 371.47,53.45 371.73,51.83 371.71,50.97 372.10,50.79 372.03,49.97 372.44,48.96 372.40,49.69 372.47,49.99 372.86,51.47 372.87,52.59 372.98,53.37 373.35,51.71 373.43,50.79 373.54,51.99 373.67,52.72 373.75,54.11 373.94,54.56 374.13,55.90 374.25,56.84 374.45,57.38 374.63,57.79 374.78,58.88 374.74,60.33 374.89,60.83 375.15,61.74 375.12,62.53 375.28,63.62 375.24,64.22 375.38,64.76 375.63,65.82 375.66,66.90 375.86,67.41 375.86,68.30 375.92,69.31 376.00,69.98 376.10,71.21 376.26,71.98 376.43,72.19 376.40,73.70 376.58,73.72 376.46,74.85 376.54,75.47 376.63,76.73 376.94,77.78 376.84,78.43 377.09,78.68 377.25,80.33 377.14,81.15 377.29,81.51 377.56,82.68 377.41,83.10 377.60,83.84 377.56,84.64 377.78,85.16 377.78,86.40 377.67,87.10 377.91,88.10 377.80,89.39 378.07,90.20 377.92,90.31 377.95,91.64 378.08,91.81 378.18,93.41 378.48,93.62 378.47,95.13 378.78,95.77 378.82,95.99 379.19,97.21 379.19,98.58 379.54,99.30 379.53,100.21 379.68,101.08 379.96,101.41 380.14,102.86 380.22,102.91 380.45,103.88 380.48,104.66 380.62,105.54 380.84,106.47 381.13,107.29 381.20,108.01 381.30,108.68 381.43,109.52 381.77,110.85 381.81,111.57 382.23,112.01 382.40,113.13 382.50,114.33 382.67,114.81 382.96,116.08 383.05,116.73 383.36,117.34 383.47,117.85 383.65,118.44 383.96,119.80 384.30,120.16 384.56,121.39 384.96,122.07 385.18,122.72 385.84,123.59 386.50,124.40 387.31,124.42 388.12,124.41 388.93,124.43 389.74,124.41 390.55,124.42 391.36,124.42 392.17,124.43 392.98,124.43 393.79,124.43 394.60,124.43 395.41,124.44 396.22,124.45 397.03,124.46 397.84,124.47 398.65,124.46 399.46,124.46 400.27,124.47 401.08,124.48 401.89,124.48 402.70,124.49 403.51,124.48 404.32,124.49 405.13,124.50 405.94,124.50 406.75,124.50 407.56,124.50 408.37,124.51 409.18,124.52 409.99,124.52 410.80,124.52 411.61,124.52 412.42,124.53 413.23,124.53 414.04,124.53 414.85,124.54 415.66,124.54 416.47,124.55 417.28,124.56 418.09,124.56 418.90,124.56 419.71,124.56 420.52,124.57 421.33,124.57 422.14,124.58 422.95,124.58 423.76,124.58 424.57,124.59 425.38,124.59 426.19,124.60 427.00,124.60" fill="none" stroke="#e21b1b" stroke-width="1.65" stroke-linejoin="round" stroke-linecap="round" opacity="1"/>
<polyline points="346.50,124.60 347.37,124.53 348.25,124.44 349.13,124.36 350.00,124.30 350.62,123.75 351.23,123.28 351.83,122.56 352.44,122.00 353.11,121.75 353.73,120.77 354.01,120.61 354.26,119.60 354.65,118.91 354.95,118.19 355.31,117.40 355.75,116.58 355.83,115.31 356.38,114.99 356.33,114.57 356.61,113.48 356.87,112.16 356.88,111.88 356.98,110.89 357.14,109.94 357.49,109.32 357.70,108.00 357.69,106.85 357.97,106.41 358.01,106.00 358.32,105.00 358.42,103.74 358.53,103.04 358.79,102.32 359.00,101.93 359.34,100.48 359.37,99.67 359.57,99.67 359.55,98.67 359.70,97.11 359.96,96.64 359.90,95.94 360.04,95.11 360.22,94.32 360.39,93.39 360.36,92.39 360.48,92.02 360.67,91.51 360.82,90.61 361.07,89.16 360.90,88.44 361.12,88.07 361.33,87.05 361.51,85.90 361.58,85.31 361.70,84.33 361.84,84.26 361.97,83.27 361.85,82.85 362.05,81.15 362.23,80.75 362.31,79.60 362.33,79.21 362.55,77.94 362.67,77.73 362.88,76.67 362.90,75.74 362.98,74.77 363.17,73.87 363.37,73.66 363.46,72.16 363.51,71.76 363.55,71.48 363.88,70.20 364.04,69.04 364.07,68.50 364.40,67.76 364.35,66.86 364.80,66.13 364.98,65.51 364.94,63.96 365.21,63.78 365.36,62.96 365.71,61.74 365.84,61.40 366.08,59.95 366.30,59.07 366.36,59.04 366.70,57.61 366.75,57.11 367.14,56.38 367.38,55.63 367.56,54.70 367.64,53.73 367.90,53.03 368.15,51.89 368.07,51.48 368.28,50.29 368.39,49.83 368.83,48.34 369.39,47.60 369.37,48.87 369.55,49.22 369.86,50.53 369.93,50.87 370.09,52.10 370.25,50.97 370.38,50.49 370.42,49.45 370.68,48.89 370.86,49.54 370.76,50.21 371.06,50.54 371.12,52.17 371.39,53.08 371.28,53.61 371.74,54.49 371.81,54.71 372.23,56.36 372.32,56.67 372.55,57.91 372.69,58.50 372.75,59.00 372.87,59.83 373.02,60.41 373.19,61.45 373.13,62.15 373.31,63.13 373.53,63.60 373.48,64.59 373.57,65.85 373.66,65.95 373.90,67.44 374.09,68.06 374.05,69.18 374.21,69.58 374.19,70.84 374.36,71.63 374.14,71.83 374.26,72.47 374.40,73.16 374.47,74.49 374.43,75.11 374.56,76.08 374.59,77.22 374.56,78.08 374.54,78.27 374.68,79.23 374.56,80.18 374.65,80.43 374.79,81.60 374.87,82.43 374.89,82.99 374.72,84.03 374.99,85.18 375.07,85.34 375.11,86.11 375.22,87.87 375.33,88.48 375.52,88.79 375.66,89.58 375.66,90.91 375.79,92.13 376.03,92.63 376.34,92.94 376.50,93.71 376.53,95.16 376.80,95.69 376.93,96.82 376.94,97.17 377.02,98.20 377.20,99.04 377.49,99.87 377.55,100.37 377.52,101.88 377.85,102.31 377.71,103.07 377.92,104.03 378.09,104.80 378.23,106.12 378.38,106.91 378.44,107.26 378.63,108.12 378.75,109.11 378.79,110.00 379.02,110.64 379.22,111.84 379.38,112.50 379.64,113.17 379.84,114.05 380.16,114.47 380.22,115.92 380.43,116.69 380.85,116.92 381.04,117.75 381.44,118.51 381.57,119.21 382.05,120.20 382.30,121.47 382.70,122.10 383.01,122.84 383.72,123.60 384.50,124.32 385.30,124.33 386.10,124.33 386.90,124.32 387.71,124.35 388.51,124.35 389.32,124.33 390.11,124.32 390.92,124.36 391.72,124.34 392.52,124.36 393.32,124.37 394.12,124.35 394.92,124.37 395.73,124.37 396.53,124.39 397.33,124.39 398.13,124.39 398.93,124.41 399.74,124.40 400.54,124.42 401.34,124.43 402.14,124.43 402.94,124.43 403.74,124.43 404.55,124.45 405.35,124.46 406.15,124.46 406.95,124.46 407.75,124.46 408.56,124.47 409.36,124.47 410.16,124.49 410.96,124.48 411.77,124.49 412.56,124.50 413.37,124.50 414.17,124.51 414.97,124.52 415.77,124.52 416.57,124.53 417.38,124.53 418.18,124.54 418.98,124.54 419.78,124.55 420.58,124.56 421.39,124.56 422.19,124.57 422.99,124.57 423.79,124.58 424.59,124.58 425.40,124.59 426.20,124.59 427.00,124.60" fill="none" stroke="#2a20b8" stroke-width="1.65" stroke-linejoin="round" stroke-linecap="round" opacity="0.95"/>
<polyline points="440.49,52.42 440.73,51.72 441.01,50.50 441.47,49.25 441.71,48.57 441.92,49.43 442.34,50.47 442.64,51.29 443.15,52.27 443.80,53.75 443.96,54.56 444.06,55.45 444.15,56.07 444.39,57.24 444.49,57.75 444.60,58.73 444.74,59.99 444.87,60.93 445.13,61.33 445.18,62.50 445.25,63.35 445.55,64.07 445.64,64.97 445.77,66.34 445.85,66.70 445.97,68.02 446.09,68.75 446.32,70.25 446.45,70.94 446.62,71.76 446.73,72.80 446.85,74.27 446.87,75.03 447.09,75.79 447.14,77.30 447.39,77.77 447.44,79.27 447.45,80.07 447.52,80.92 447.73,82.05 447.85,82.75 447.87,84.22 448.02,84.97 448.08,86.29 448.21,86.71 448.35,87.90 448.39,88.83 448.49,89.89 448.53,91.08 448.62,92.07 448.69,92.97 448.93,93.70 449.00,94.45 449.09,95.46 449.09,96.68 449.21,97.22 449.38,98.12 449.44,98.90 449.56,99.86 449.54,101.29 449.69,102.27 449.96,103.06 449.91,103.74 450.07,104.93 450.27,106.28 450.35,106.78 450.51,107.78 450.56,108.95 450.80,109.57 450.89,110.87 451.08,111.60 451.24,112.38 451.34,113.66 451.61,114.50 451.71,115.23 452.03,116.30 452.28,117.25 452.55,118.33 452.92,119.27 453.49,120.39 453.99,121.19 454.83,121.86 455.67,122.27 456.47,122.70 457.69,122.81 458.83,123.01 460.02,123.14 461.01,123.17 461.99,123.15 463.01,123.02 464.01,123.03 465.00,123.02 465.98,122.85 466.99,122.74 467.98,122.57 469.02,122.08 470.03,121.46 471.01,121.34 472.02,120.97 472.95,120.75 474.01,120.61 474.95,120.54 476.00,120.81 476.95,121.10 477.99,121.73 478.97,122.40 480.00,122.95 481.02,123.47 481.99,123.99 483.00,124.09 484.00,124.14 485.00,124.21 486.00,124.31 487.00,124.38 488.00,124.45 489.00,124.53 490.00,124.60" fill="none" stroke="#2a20b8" stroke-width="1.6" stroke-linejoin="round" stroke-linecap="round" opacity="0.9"/>
<polyline points="432.60,124.60 432.84,123.69 433.09,122.96 433.32,121.85 433.39,121.03 433.42,120.58 433.69,118.98 433.76,118.60 433.70,117.41 433.88,116.71 433.97,116.04 433.89,115.27 434.23,114.64 434.20,112.88 434.10,112.13 434.47,111.47 434.38,111.23 434.44,110.05 434.56,108.73 434.69,108.68 434.65,107.22 434.81,106.20 434.92,106.15 435.05,105.03 435.19,103.82 435.19,103.21 435.28,102.11 435.42,101.26 435.32,101.14 435.63,99.93 435.54,98.91 435.57,98.45 435.60,97.12 435.75,96.33 435.88,96.15 435.98,94.98 435.92,94.10 435.88,93.55 436.05,92.32 436.04,91.61 436.26,90.72 436.41,90.17 436.31,89.17 436.59,88.31 436.59,86.99 436.64,86.53 436.70,85.63 436.84,84.90 436.90,83.67 436.95,83.65 437.00,81.90 436.94,81.58 437.02,80.32 437.10,79.86 437.43,79.08 437.33,78.21 437.41,77.40 437.54,77.03 437.60,75.74 437.64,75.41 437.60,73.85 437.84,73.42 437.94,72.43 438.10,71.44 438.19,71.03 438.18,70.04 438.37,69.19 438.21,68.41 438.48,67.66 438.59,66.19 438.55,65.24 438.58,65.22 438.51,63.85 438.63,62.81 438.83,61.82 439.22,61.73 439.22,60.70 439.44,59.59 439.52,58.85 439.72,57.57 439.77,57.10 439.97,55.85 440.08,55.69 440.27,54.64 440.14,53.58 440.26,52.38 440.43,51.96 440.82,51.35 440.91,50.64 441.22,49.67 441.39,48.82 441.65,48.33 441.99,49.01 442.29,50.01 442.66,51.22 443.29,51.91 443.89,53.46 444.09,54.12 443.95,55.15 444.32,55.22 444.31,56.42 444.57,57.61 444.57,58.09 444.68,58.90 445.01,60.64 444.98,61.34 445.34,61.69 445.34,62.77 445.58,64.04 445.40,64.20 445.77,65.41 445.79,66.48 445.98,67.45 445.99,67.47 446.24,68.39 446.34,70.12 446.43,70.78 446.50,71.26 446.72,72.76 446.92,72.73 446.99,74.01 446.90,74.70 447.06,75.45 447.02,76.77 447.27,77.31 447.37,78.49 447.29,79.18 447.57,79.56 447.57,80.53 447.55,81.36 447.62,82.72 447.72,83.28 447.92,84.47 448.08,84.74 448.04,85.30 448.03,86.44 448.38,87.05 448.24,88.51 448.38,88.94 448.65,89.67 448.63,90.93 448.64,91.51 448.66,92.54 448.92,93.42 449.01,94.65 448.91,95.47 449.12,95.83 449.18,97.12 449.22,97.14 449.47,97.98 449.30,99.40 449.44,99.79 449.64,101.19 449.65,102.01 449.84,102.51 449.91,102.71 449.90,104.18 450.16,104.40 450.24,105.57 450.32,106.30 450.32,107.06 450.64,107.69 450.74,108.95 450.64,110.14 450.76,111.09 450.98,112.09 451.23,112.44 451.34,113.99 451.40,114.04 451.64,115.49 451.82,115.75 452.13,116.92 452.28,117.72 452.36,118.01 452.88,119.05 453.56,120.70 453.94,121.24 454.76,121.70 455.69,122.22 456.54,122.62 457.33,122.71 458.25,122.85 459.09,123.08 460.00,123.25 460.82,123.06 461.65,123.05 462.50,123.01 463.30,123.07 464.14,122.93 464.97,123.05 466.03,123.02 467.01,122.91 468.02,122.78 469.00,122.62 470.02,122.34 471.02,122.16 471.96,121.92 473.03,121.90 474.05,121.81 475.02,121.62 475.97,122.06 476.96,122.05 477.95,122.44 479.00,122.92 479.77,123.17 480.49,123.43 481.23,123.70 482.00,124.00 482.80,123.99 483.61,124.05 484.41,124.09 485.21,124.03 486.02,124.06 486.83,124.06 487.62,124.12 488.43,124.12 489.22,124.16 490.03,124.18 490.83,124.14 491.64,124.21 492.43,124.21 493.24,124.24 494.04,124.21 494.83,124.24 495.64,124.25 496.45,124.29 497.25,124.30 498.05,124.33 498.85,124.31 499.65,124.35 500.46,124.36 501.27,124.36 502.07,124.40 502.87,124.41 503.67,124.42 504.47,124.44 505.27,124.46 506.07,124.45 506.88,124.47 507.68,124.49 508.48,124.51 509.29,124.52 510.09,124.53 510.89,124.55 511.70,124.57 512.50,124.59 513.30,124.60" fill="none" stroke="#e21b1b" stroke-width="1.7" stroke-linejoin="round" stroke-linecap="round" opacity="0.85"/>
<text x="361.9" y="169.5" font-size="10.3" font-weight="bold" fill="#111" text-anchor="start" textLength="17.6" lengthAdjust="spacingAndGlyphs" stroke="#111" stroke-width="0.2" >CD8</text>
<text x="379.6" y="169.5" font-size="10.8" font-family="Liberation Serif" fill="#111" stroke="#111" stroke-width="0.35" textLength="7.3" lengthAdjust="spacingAndGlyphs">α</text>
<text x="387.2" y="165.6" font-size="7.2" font-weight="bold" fill="#111" text-anchor="start" textLength="4.2" lengthAdjust="spacingAndGlyphs" stroke="#111" stroke-width="0.2" >+</text>
<text x="392.7" y="169.5" font-size="10.3" font-weight="bold" fill="#111" text-anchor="start" textLength="17.8" lengthAdjust="spacingAndGlyphs" stroke="#111" stroke-width="0.2" >DCs</text>
<text x="449" y="169.3" font-size="10.3" font-weight="bold" fill="#111" text-anchor="start" textLength="17.4" lengthAdjust="spacingAndGlyphs" stroke="#111" stroke-width="0.2" >CD8</text>
<text x="466.5" y="169.3" font-size="10.8" font-family="Liberation Serif" fill="#111" stroke="#111" stroke-width="0.35" textLength="7.3" lengthAdjust="spacingAndGlyphs">α</text>
<rect x="474.79999999999995" y="162.70000000000002" width="3.2" height="1.1" fill="#111"/>
<text x="479.59999999999997" y="169.3" font-size="10.3" font-weight="bold" fill="#111" text-anchor="start" textLength="17.8" lengthAdjust="spacingAndGlyphs" stroke="#111" stroke-width="0.2" >DCs</text>
<rect x="346.3" y="172.8" width="81.19999999999999" height="81.0" fill="none" stroke="#777" stroke-width="1.2"/>
<line x1="346.3" y1="172.8" x2="427.5" y2="172.8" stroke="#6a6a6a" stroke-width="1.2"/>
<line x1="344.3" y1="176.8" x2="346.3" y2="176.8" stroke="#555" stroke-width="0.8"/>
<line x1="344.3" y1="192.2" x2="346.3" y2="192.2" stroke="#555" stroke-width="0.8"/>
<line x1="344.3" y1="207.6" x2="346.3" y2="207.6" stroke="#555" stroke-width="0.8"/>
<line x1="344.3" y1="223.0" x2="346.3" y2="223.0" stroke="#555" stroke-width="0.8"/>
<line x1="344.3" y1="238.4" x2="346.3" y2="238.4" stroke="#555" stroke-width="0.8"/>
<line x1="344.3" y1="253.8" x2="346.3" y2="253.8" stroke="#555" stroke-width="0.8"/>
<text x="343.6" y="178.36" font-size="5.2" font-weight="normal" fill="#222" text-anchor="end" stroke="#222" stroke-width="0.2" >100</text>
<text x="343.6" y="193.76000000000002" font-size="5.2" font-weight="normal" fill="#222" text-anchor="end" stroke="#222" stroke-width="0.2" >80</text>
<text x="343.6" y="209.16000000000003" font-size="5.2" font-weight="normal" fill="#222" text-anchor="end" stroke="#222" stroke-width="0.2" >60</text>
<text x="343.6" y="224.56" font-size="5.2" font-weight="normal" fill="#222" text-anchor="end" stroke="#222" stroke-width="0.2" >40</text>
<text x="343.6" y="239.96" font-size="5.2" font-weight="normal" fill="#222" text-anchor="end" stroke="#222" stroke-width="0.2" >20</text>
<text x="343.6" y="255.36" font-size="5.2" font-weight="normal" fill="#222" text-anchor="end" stroke="#222" stroke-width="0.2" >0</text>
<rect x="432.5" y="172.6" width="81.29999999999995" height="80.80000000000001" fill="none" stroke="#777" stroke-width="1.2"/>
<line x1="432.5" y1="172.6" x2="513.8" y2="172.6" stroke="#6a6a6a" stroke-width="1.2"/>
<line x1="430.5" y1="176.6" x2="432.5" y2="176.6" stroke="#555" stroke-width="0.8"/>
<line x1="430.5" y1="192.0" x2="432.5" y2="192.0" stroke="#555" stroke-width="0.8"/>
<line x1="430.5" y1="207.3" x2="432.5" y2="207.3" stroke="#555" stroke-width="0.8"/>
<line x1="430.5" y1="222.7" x2="432.5" y2="222.7" stroke="#555" stroke-width="0.8"/>
<line x1="430.5" y1="238.0" x2="432.5" y2="238.0" stroke="#555" stroke-width="0.8"/>
<line x1="430.5" y1="253.4" x2="432.5" y2="253.4" stroke="#555" stroke-width="0.8"/>
<text x="358.1" y="262.6" font-size="5.6" font-style="italic" fill="#333" text-anchor="middle">0</text>
<text x="363.4" y="262.6" font-size="5.2" font-style="italic" fill="#333" letter-spacing="-0.35">10<tspan font-size="4.6" dy="-1.6" dx="-0.2">2</tspan></text>
<text x="381.6" y="262.6" font-size="5.2" font-style="italic" fill="#333" letter-spacing="-0.35">10<tspan font-size="4.6" dy="-1.6" dx="-0.2">3</tspan></text>
<text x="399" y="262.6" font-size="5.2" font-style="italic" fill="#333" letter-spacing="-0.35">10<tspan font-size="4.6" dy="-1.6" dx="-0.2">4</tspan></text>
<text x="416.4" y="262.6" font-size="5.2" font-style="italic" fill="#333" letter-spacing="-0.35">10<tspan font-size="4.6" dy="-1.6" dx="-0.2">5</tspan></text>
<line x1="352" y1="253.8" x2="352" y2="255.4" stroke="#555" stroke-width="0.7"/>
<line x1="356" y1="253.8" x2="356" y2="255.4" stroke="#555" stroke-width="0.7"/>
<line x1="358" y1="253.8" x2="358" y2="255.4" stroke="#555" stroke-width="0.7"/>
<line x1="360" y1="253.8" x2="360" y2="255.4" stroke="#555" stroke-width="0.7"/>
<line x1="362" y1="253.8" x2="362" y2="255.4" stroke="#555" stroke-width="0.7"/>
<line x1="364" y1="253.8" x2="364" y2="255.4" stroke="#555" stroke-width="0.7"/>
<line x1="366" y1="253.8" x2="366" y2="255.4" stroke="#555" stroke-width="0.7"/>
<line x1="369" y1="253.8" x2="369" y2="255.4" stroke="#555" stroke-width="0.7"/>
<line x1="373" y1="253.8" x2="373" y2="255.4" stroke="#555" stroke-width="0.7"/>
<line x1="378" y1="253.8" x2="378" y2="255.4" stroke="#555" stroke-width="0.7"/>
<line x1="384" y1="253.8" x2="384" y2="255.4" stroke="#555" stroke-width="0.7"/>
<line x1="391" y1="253.8" x2="391" y2="255.4" stroke="#555" stroke-width="0.7"/>
<line x1="397" y1="253.8" x2="397" y2="255.4" stroke="#555" stroke-width="0.7"/>
<line x1="403" y1="253.8" x2="403" y2="255.4" stroke="#555" stroke-width="0.7"/>
<line x1="409" y1="253.8" x2="409" y2="255.4" stroke="#555" stroke-width="0.7"/>
<line x1="415" y1="253.8" x2="415" y2="255.4" stroke="#555" stroke-width="0.7"/>
<line x1="419" y1="253.8" x2="419" y2="255.4" stroke="#555" stroke-width="0.7"/>
<line x1="425" y1="253.8" x2="425" y2="255.4" stroke="#555" stroke-width="0.7"/>
<line x1="438" y1="253.4" x2="438" y2="255" stroke="#555" stroke-width="0.7"/>
<line x1="442" y1="253.4" x2="442" y2="255" stroke="#555" stroke-width="0.7"/>
<line x1="444" y1="253.4" x2="444" y2="255" stroke="#555" stroke-width="0.7"/>
<line x1="446" y1="253.4" x2="446" y2="255" stroke="#555" stroke-width="0.7"/>
<line x1="448" y1="253.4" x2="448" y2="255" stroke="#555" stroke-width="0.7"/>
<line x1="450" y1="253.4" x2="450" y2="255" stroke="#555" stroke-width="0.7"/>
<line x1="452" y1="253.4" x2="452" y2="255" stroke="#555" stroke-width="0.7"/>
<line x1="456" y1="253.4" x2="456" y2="255" stroke="#555" stroke-width="0.7"/>
<line x1="460" y1="253.4" x2="460" y2="255" stroke="#555" stroke-width="0.7"/>
<line x1="466" y1="253.4" x2="466" y2="255" stroke="#555" stroke-width="0.7"/>
<line x1="472" y1="253.4" x2="472" y2="255" stroke="#555" stroke-width="0.7"/>
<line x1="478" y1="253.4" x2="478" y2="255" stroke="#555" stroke-width="0.7"/>
<line x1="484" y1="253.4" x2="484" y2="255" stroke="#555" stroke-width="0.7"/>
<line x1="490" y1="253.4" x2="490" y2="255" stroke="#555" stroke-width="0.7"/>
<line x1="496" y1="253.4" x2="496" y2="255" stroke="#555" stroke-width="0.7"/>
<line x1="502" y1="253.4" x2="502" y2="255" stroke="#555" stroke-width="0.7"/>
<line x1="506" y1="253.4" x2="506" y2="255" stroke="#555" stroke-width="0.7"/>
<line x1="510" y1="253.4" x2="510" y2="255" stroke="#555" stroke-width="0.7"/>
<line x1="406.9" y1="270.4" x2="452.8" y2="270.4" stroke="#111" stroke-width="1.6"/>
<polyline points="448.3,267.29999999999995 453.6,270.4 448.3,273.5" fill="none" stroke="#111" stroke-width="1.5"/>
<text x="391.9" y="281.7" font-size="8.8" font-weight="bold" fill="#111" text-anchor="start" textLength="75.4" lengthAdjust="spacingAndGlyphs" stroke="#111" stroke-width="0.2" >Control human IgG1</text>
<polyline points="346.50,253.70 348.01,253.00 348.29,252.17 348.53,251.29 348.88,250.59 349.06,249.44 349.33,248.97 349.77,247.41 350.14,247.46 350.15,246.20 350.11,244.68 350.32,243.81 350.32,243.08 350.38,242.38 350.61,241.84 350.73,240.72 350.83,239.83 350.92,238.53 351.19,238.33 351.25,237.12 351.19,235.73 351.32,234.65 351.60,234.05 351.76,233.12 351.93,232.66 351.77,231.09 352.18,230.43 352.34,229.44 352.20,228.74 352.55,227.46 352.47,226.60 352.87,226.10 352.75,224.67 352.88,223.56 353.20,222.75 353.25,222.10 353.25,221.46 353.35,220.45 353.46,219.31 353.61,218.23 353.95,217.84 353.86,217.00 353.95,215.59 354.26,214.91 354.15,214.34 354.30,212.68 354.58,211.83 354.54,210.66 354.58,210.26 354.72,209.37 354.86,208.32 355.14,207.44 355.12,206.91 355.10,205.29 355.42,205.05 355.32,203.51 355.57,203.35 355.51,202.45 355.84,201.10 355.83,199.60 355.85,199.46 356.04,198.20 356.17,197.32 356.40,195.79 356.40,195.22 356.51,193.73 356.80,193.35 356.96,191.78 357.20,190.70 357.07,189.77 357.34,188.56 357.40,187.87 357.86,186.63 358.14,186.39 358.66,185.16 358.92,184.08 359.09,182.54 359.71,182.41 360.56,181.46 360.61,182.14 360.99,183.23 361.20,184.50 361.37,185.05 361.70,184.46 361.82,183.33 361.96,182.60 361.96,181.44 362.25,180.68 362.23,179.67 362.48,178.51 362.54,177.38 362.69,178.53 362.71,179.47 363.15,180.63 363.24,181.06 363.40,182.16 363.48,183.34 363.78,182.25 364.16,181.10 364.79,179.48 365.36,178.50 365.51,179.82 365.59,179.81 365.78,181.38 365.93,181.77 366.32,183.16 366.45,184.39 366.68,185.17 366.91,185.93 367.23,187.41 367.40,187.88 367.45,188.82 367.46,190.00 367.82,191.35 367.92,192.45 367.93,192.67 368.10,193.78 368.14,194.91 368.38,195.99 368.40,197.34 368.72,197.95 368.56,198.53 368.91,199.54 369.00,201.07 369.02,202.29 369.08,202.64 369.35,203.52 369.60,204.74 369.89,205.80 370.54,207.45 370.94,208.66 371.39,209.96 371.56,210.10 371.69,210.98 371.75,212.17 372.16,212.78 372.23,213.85 372.66,215.02 372.93,216.26 373.17,217.29 373.62,217.59 373.93,219.22 373.99,219.95 374.44,221.41 374.66,222.07 375.11,223.30 375.73,223.96 376.25,224.70 376.63,226.22 376.96,227.02 377.19,228.10 377.78,229.08 378.01,229.79 378.45,230.91 379.11,231.35 379.37,232.44 379.89,233.64 380.25,233.78 380.72,234.69 381.09,235.67 381.95,237.04 382.89,237.15 383.50,238.50 384.10,239.24 384.63,239.82 385.13,240.19 385.92,241.08 386.94,241.73 387.92,242.27 388.85,243.06 389.28,243.88 390.02,245.40 390.41,246.35 392.04,247.02 392.72,247.20 393.51,248.00 394.27,248.63 395.09,250.01 395.82,250.98 396.67,251.66 397.51,252.41 398.75,252.99 400.00,253.51 400.91,253.51 401.82,253.51 402.73,253.53 403.64,253.52 404.55,253.54 405.46,253.53 406.37,253.53 407.28,253.55 408.19,253.56 409.10,253.57 410.01,253.58 410.92,253.58 411.83,253.58 412.74,253.59 413.65,253.60 414.56,253.60 415.47,253.62 416.38,253.62 417.29,253.63 418.20,253.63 419.11,253.64 420.02,253.65 420.93,253.66 421.84,253.66 422.75,253.66 423.66,253.67 424.57,253.68 425.48,253.69 426.39,253.69 427.30,253.70" fill="none" stroke="#2a20b8" stroke-width="1.7" stroke-linejoin="round" stroke-linecap="round" opacity="1"/>
<polyline points="346.50,253.70 348.01,252.96 348.25,252.11 348.54,251.41 348.89,250.48 349.15,249.68 349.34,248.66 349.62,248.25 349.87,247.32 349.98,246.27 350.16,245.07 350.42,243.77 350.28,243.75 350.52,242.01 350.77,241.95 350.61,240.51 350.72,239.48 350.97,238.41 351.10,237.38 351.05,237.23 351.22,235.92 351.41,235.05 351.48,233.68 351.72,233.70 351.93,232.47 351.88,231.25 352.11,230.64 352.08,229.27 352.29,228.63 352.55,227.69 352.45,227.09 352.71,225.87 352.78,224.85 352.97,224.27 353.00,223.13 353.13,222.35 353.21,221.01 353.41,220.44 353.44,219.34 353.60,218.24 353.80,218.00 353.92,217.07 353.94,216.12 354.11,214.46 354.34,214.26 354.24,212.69 354.58,211.84 354.55,210.51 354.62,210.12 355.03,209.50 355.02,207.52 355.09,207.29 355.37,206.14 355.32,205.03 355.49,204.22 355.53,203.63 355.82,201.93 355.74,201.74 355.83,200.90 356.00,199.74 356.16,198.35 356.14,197.48 356.35,197.01 356.29,196.30 356.48,194.74 356.58,194.48 356.72,193.12 356.93,192.46 356.98,190.92 357.03,190.40 357.19,189.08 357.15,187.87 357.37,187.06 357.30,186.21 357.70,185.30 357.84,184.41 357.87,183.29 357.96,181.60 358.16,180.91 358.53,180.39 358.61,179.42 358.69,178.43 359.06,177.39 359.07,178.34 359.23,179.54 359.32,179.88 359.52,181.41 359.79,182.30 359.99,182.94 359.86,183.99 360.23,182.68 360.55,181.84 360.67,180.83 361.13,179.51 361.05,180.69 361.09,181.75 361.19,183.15 361.36,183.83 361.35,184.51 361.58,185.80 361.56,186.32 361.83,187.60 361.74,188.22 361.99,188.99 362.05,190.16 362.34,189.05 362.45,187.85 362.67,186.82 362.80,185.86 362.94,184.64 363.17,186.04 363.43,186.55 363.84,187.79 364.13,189.10 364.30,188.37 364.79,186.82 364.89,186.14 365.27,187.11 365.42,187.91 365.54,188.76 365.64,189.88 365.80,190.90 366.09,191.67 365.97,192.75 366.27,194.02 366.05,195.34 366.36,196.32 366.27,197.23 366.32,197.64 366.55,199.33 366.41,200.38 366.48,200.81 366.60,201.67 366.77,203.22 366.94,203.69 367.03,204.81 367.36,206.11 367.26,207.18 367.51,207.95 367.71,209.15 367.99,210.01 368.14,210.97 368.34,211.89 368.47,213.02 368.78,213.78 369.06,214.99 369.25,216.19 369.49,217.18 369.55,217.91 369.82,219.25 370.10,219.63 370.17,220.61 370.48,221.56 370.75,222.75 371.08,224.19 371.50,225.47 371.87,226.25 372.13,226.53 372.25,228.43 372.66,228.71 373.08,229.92 373.35,230.82 373.59,231.59 374.03,233.45 374.90,233.77 375.63,233.86 376.19,235.42 377.03,236.17 377.52,236.56 378.33,237.90 379.10,238.76 379.95,239.13 381.11,240.49 381.50,240.69 382.04,242.04 382.46,242.73 382.97,243.95 383.39,244.71 384.14,245.74 384.93,246.82 386.38,246.74 387.29,247.17 388.01,248.58 389.02,248.90 389.96,249.40 391.09,249.90 391.75,250.48 392.46,250.95 393.22,251.43 393.99,251.96 395.03,252.46 395.99,253.02 397.00,253.50 397.92,253.49 398.84,253.50 399.75,253.53 400.68,253.53 401.59,253.53 402.51,253.55 403.43,253.53 404.35,253.55 405.26,253.55 406.19,253.56 407.10,253.56 408.02,253.57 408.94,253.58 409.85,253.59 410.77,253.59 411.69,253.60 412.61,253.60 413.53,253.60 414.45,253.62 415.36,253.63 416.28,253.62 417.20,253.63 418.12,253.64 419.04,253.64 419.95,253.65 420.87,253.66 421.79,253.67 422.71,253.67 423.63,253.68 424.55,253.68 425.46,253.69 426.38,253.69 427.30,253.70" fill="none" stroke="#e21b1b" stroke-width="1.7" stroke-linejoin="round" stroke-linecap="round" opacity="1"/>
<polyline points="432.60,253.30 433.50,253.11 434.32,252.03 435.14,250.97 436.02,249.88 436.29,248.88 436.54,247.96 436.92,247.07 437.06,245.87 437.36,245.22 437.77,244.18 438.06,243.15 438.25,242.18 438.30,241.21 438.51,240.15 438.70,238.96 438.83,237.96 439.00,236.77 439.26,236.18 439.45,235.11 439.54,234.15 439.63,233.11 439.86,231.81 439.98,231.01 440.16,229.98 440.42,228.94 440.53,227.99 440.75,226.84 440.95,225.92 441.12,225.09 441.48,223.93 441.64,223.26 441.72,221.79 442.01,221.20 442.14,219.80 442.25,219.22 442.49,218.18 442.52,217.21 442.71,216.13 442.82,215.28 443.06,214.13 443.15,213.07 443.40,212.05 443.55,211.14 443.73,209.88 443.88,209.11 444.06,207.84 444.24,207.09 444.51,206.03 444.60,204.96 444.84,203.76 444.96,203.30 445.17,201.88 445.38,201.06 445.52,199.98 445.71,199.20 445.78,197.90 446.00,197.28 446.14,195.98 446.30,194.88 446.32,194.00 446.66,193.14 446.72,192.11 447.01,190.86 447.15,189.91 447.27,188.87 447.45,187.91 447.82,186.94 448.23,186.15 448.49,184.70 448.70,183.81 448.82,183.03 448.97,181.87 449.49,180.53 450.07,179.27 451.06,180.83 451.26,179.93 451.52,178.78 451.87,177.97 452.52,179.54 452.92,180.52 453.93,178.98 455.17,180.24 455.54,180.78 455.78,181.85 456.27,182.79 456.60,184.17 456.97,185.68 457.20,186.76 457.53,188.01 457.75,189.13 457.99,190.04 458.22,191.30 458.47,191.97 458.53,193.32 458.86,194.42 458.96,195.78 459.16,196.38 459.32,197.47 459.64,198.64 459.84,200.22 460.02,201.19 460.05,202.07 460.26,203.13 460.30,204.16 460.40,204.89 460.69,205.98 460.66,207.17 460.79,207.70 460.82,208.86 460.97,210.26 461.05,211.21 461.26,211.95 461.39,213.16 461.40,213.86 461.49,215.24 461.61,215.82 461.68,216.99 461.74,218.04 461.82,219.19 461.94,219.76 462.10,220.88 462.23,222.00 462.24,223.20 462.27,224.15 462.43,224.96 462.56,225.71 462.63,226.79 462.70,227.79 462.64,229.00 462.88,229.85 463.03,231.06 463.22,232.02 463.41,232.97 463.78,233.90 463.92,234.73 464.24,235.96 464.60,237.27 464.78,238.50 465.25,239.57 465.56,240.61 465.91,241.60 466.27,242.35 466.56,243.64 467.02,244.23 467.53,245.57 468.00,246.67 468.57,247.43 469.21,248.53 469.84,249.53 470.54,250.59 471.36,251.20 472.17,251.93 473.00,252.49 473.99,252.70 475.00,252.91 476.00,253.11 477.01,253.10 478.03,253.12 479.04,253.11 480.05,253.12 481.07,253.14 482.08,253.14 483.09,253.13 484.11,253.14 485.12,253.14 486.13,253.15 487.15,253.15 488.16,253.17 489.17,253.17 490.19,253.18 491.20,253.18 492.22,253.19 493.23,253.19 494.24,253.20 495.26,253.20 496.27,253.21 497.28,253.21 498.30,253.22 499.31,253.22 500.32,253.23 501.34,253.24 502.35,253.24 503.36,253.25 504.38,253.25 505.39,253.26 506.41,253.26 507.42,253.27 508.43,253.27 509.45,253.28 510.46,253.28 511.47,253.29 512.49,253.29 513.50,253.30" fill="none" stroke="#2a20b8" stroke-width="1.7" stroke-linejoin="round" stroke-linecap="round" opacity="1"/>
<polyline points="432.60,253.30 433.50,253.11 434.26,252.04 435.05,251.07 435.78,250.06 436.04,249.12 436.25,247.85 436.64,246.91 436.79,246.18 437.11,244.79 437.35,244.10 437.54,243.09 437.69,241.90 437.84,240.82 438.16,239.94 438.32,238.96 438.41,238.22 438.58,236.77 438.72,236.08 438.81,234.76 439.10,234.01 439.14,232.97 439.32,232.18 439.53,230.76 439.76,229.75 439.86,228.72 440.14,227.77 440.30,226.76 440.50,226.11 440.71,224.97 440.90,223.96 441.12,222.76 441.30,221.84 441.51,221.26 441.51,219.79 441.77,219.04 441.79,218.12 442.10,216.95 442.14,216.04 442.39,214.86 442.42,213.81 442.62,212.98 442.73,211.93 442.86,210.89 443.20,210.05 443.25,209.26 443.43,207.85 443.54,206.79 443.75,205.84 444.07,204.86 444.15,204.06 444.48,202.87 444.65,201.92 444.81,201.06 445.08,200.15 445.13,199.20 445.24,197.93 445.48,197.03 445.58,195.89 445.74,195.07 445.75,194.26 445.96,192.90 446.09,191.76 446.25,191.12 446.40,189.86 446.62,189.03 446.78,188.17 447.01,186.92 447.29,185.78 447.50,184.79 447.84,183.79 448.06,182.83 448.29,182.09 448.47,181.26 449.03,179.78 449.42,178.44 449.79,179.65 450.24,181.05 450.42,182.11 450.91,180.76 451.09,179.69 451.49,178.49 452.07,179.80 452.58,180.74 453.05,179.88 453.43,178.93 454.62,179.70 454.99,181.17 455.40,182.02 455.76,183.28 456.20,184.36 456.73,185.20 457.06,186.47 457.34,188.01 457.60,189.09 457.78,189.97 457.97,191.36 458.12,191.98 458.48,193.48 458.64,194.68 458.80,195.70 458.99,196.87 459.12,197.71 459.41,199.05 459.59,200.11 459.82,200.95 459.81,201.72 460.07,202.99 460.11,204.01 460.20,204.83 460.35,205.85 460.56,206.85 460.53,208.22 460.71,208.72 460.83,210.11 460.93,211.16 460.99,211.83 461.14,213.08 461.24,213.81 461.28,215.11 461.38,216.06 461.50,217.15 461.57,218.00 461.76,218.89 461.74,220.08 461.80,221.21 461.90,222.24 462.02,222.79 462.08,224.11 462.15,225.08 462.20,226.28 462.23,227.18 462.27,228.00 462.35,228.78 462.52,230.24 462.68,230.94 462.93,232.06 463.12,232.91 463.43,234.03 463.56,235.19 463.89,235.96 464.01,237.01 464.47,238.05 464.65,239.55 464.93,240.71 465.33,241.43 465.77,242.27 466.17,243.46 466.55,244.66 466.92,245.69 467.56,246.35 468.02,247.33 468.67,248.65 469.32,249.58 469.97,250.70 470.84,251.33 471.65,251.97 472.49,252.60 473.75,252.92 475.00,253.20 476.01,253.20 477.03,253.21 478.04,253.21 479.05,253.21 480.07,253.21 481.08,253.22 482.09,253.21 483.11,253.22 484.12,253.22 485.13,253.22 486.14,253.23 487.16,253.23 488.17,253.23 489.19,253.24 490.20,253.24 491.21,253.24 492.22,253.25 493.24,253.25 494.25,253.25 495.26,253.25 496.28,253.25 497.29,253.26 498.30,253.26 499.32,253.26 500.33,253.26 501.34,253.27 502.36,253.27 503.37,253.27 504.38,253.28 505.39,253.28 506.41,253.28 507.42,253.28 508.43,253.29 509.45,253.29 510.46,253.29 511.47,253.29 512.49,253.30 513.50,253.30" fill="none" stroke="#e21b1b" stroke-width="1.7" stroke-linejoin="round" stroke-linecap="round" opacity="0.85"/>
</svg></body></html>
